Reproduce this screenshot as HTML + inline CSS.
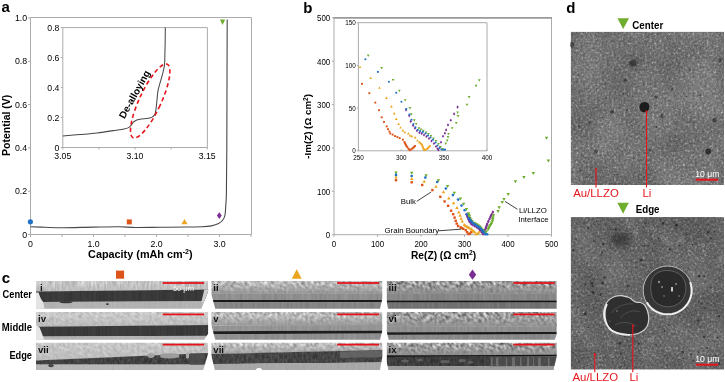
<!DOCTYPE html>
<html><head><meta charset="utf-8"><title>Figure</title>
<style>
html,body{margin:0;padding:0;background:#fff;width:725px;height:382px;overflow:hidden}
svg{display:block;filter:blur(0.4px)}
text{font-family:"Liberation Sans",sans-serif}
</style></head><body>
<svg width="725" height="382" viewBox="0 0 725 382">
<rect width="725" height="382" fill="#fff"/>
<defs><linearGradient id="vfade" x1="0" y1="0" x2="0" y2="1"><stop offset="0" stop-color="#000"/><stop offset="1" stop-color="#fff"/></linearGradient><filter id="f780_350_0p45_0p09_11_2" x="0" y="0" width="100%" height="100%" color-interpolation-filters="sRGB"><feTurbulence type="fractalNoise" baseFrequency="0.45 0.09" numOctaves="2" seed="11"/><feColorMatrix type="matrix" values="1 0 0 0 0 1 0 0 0 0 1 0 0 0 0 0 0 0 0 1"/><feComponentTransfer><feFuncR type="linear" slope="0.350" intercept="0.605"/><feFuncG type="linear" slope="0.350" intercept="0.605"/><feFuncB type="linear" slope="0.350" intercept="0.605"/></feComponentTransfer><feComposite in2="SourceAlpha" operator="in"/></filter><filter id="f700_100_0p55_0p025_14_1" x="0" y="0" width="100%" height="100%" color-interpolation-filters="sRGB"><feTurbulence type="fractalNoise" baseFrequency="0.55 0.025" numOctaves="1" seed="14"/><feColorMatrix type="matrix" values="1 0 0 0 0 1 0 0 0 0 1 0 0 0 0 0 0 0 0 1"/><feComponentTransfer><feFuncR type="linear" slope="0.100" intercept="0.650"/><feFuncG type="linear" slope="0.100" intercept="0.650"/><feFuncB type="linear" slope="0.100" intercept="0.650"/></feComponentTransfer><feComposite in2="SourceAlpha" operator="in"/></filter><filter id="f225_80_0p55_0p025_17_1" x="0" y="0" width="100%" height="100%" color-interpolation-filters="sRGB"><feTurbulence type="fractalNoise" baseFrequency="0.55 0.025" numOctaves="1" seed="17"/><feColorMatrix type="matrix" values="1 0 0 0 0 1 0 0 0 0 1 0 0 0 0 0 0 0 0 1"/><feComponentTransfer><feFuncR type="linear" slope="0.080" intercept="0.185"/><feFuncG type="linear" slope="0.080" intercept="0.185"/><feFuncB type="linear" slope="0.080" intercept="0.185"/></feComponentTransfer><feComposite in2="SourceAlpha" operator="in"/></filter><filter id="f700_60_0p55_0p025_20_1" x="0" y="0" width="100%" height="100%" color-interpolation-filters="sRGB"><feTurbulence type="fractalNoise" baseFrequency="0.55 0.025" numOctaves="1" seed="20"/><feColorMatrix type="matrix" values="1 0 0 0 0 1 0 0 0 0 1 0 0 0 0 0 0 0 0 1"/><feComponentTransfer><feFuncR type="linear" slope="0.060" intercept="0.670"/><feFuncG type="linear" slope="0.060" intercept="0.670"/><feFuncB type="linear" slope="0.060" intercept="0.670"/></feComponentTransfer><feComposite in2="SourceAlpha" operator="in"/></filter><filter id="f730_700_0p26_0p38_21_2" x="0" y="0" width="100%" height="100%" color-interpolation-filters="sRGB"><feTurbulence type="fractalNoise" baseFrequency="0.26 0.38" numOctaves="2" seed="21"/><feColorMatrix type="matrix" values="1 0 0 0 0 1 0 0 0 0 1 0 0 0 0 0 0 0 0 1"/><feComponentTransfer><feFuncR type="linear" slope="0.700" intercept="0.380"/><feFuncG type="linear" slope="0.700" intercept="0.380"/><feFuncB type="linear" slope="0.700" intercept="0.380"/></feComponentTransfer><feComposite in2="SourceAlpha" operator="in"/></filter><filter id="f580_140_0p55_0p025_24_1" x="0" y="0" width="100%" height="100%" color-interpolation-filters="sRGB"><feTurbulence type="fractalNoise" baseFrequency="0.55 0.025" numOctaves="1" seed="24"/><feColorMatrix type="matrix" values="1 0 0 0 0 1 0 0 0 0 1 0 0 0 0 0 0 0 0 1"/><feComponentTransfer><feFuncR type="linear" slope="0.140" intercept="0.510"/><feFuncG type="linear" slope="0.140" intercept="0.510"/><feFuncB type="linear" slope="0.140" intercept="0.510"/></feComponentTransfer><feComposite in2="SourceAlpha" operator="in"/></filter><filter id="f560_120_0p55_0p025_27_1" x="0" y="0" width="100%" height="100%" color-interpolation-filters="sRGB"><feTurbulence type="fractalNoise" baseFrequency="0.55 0.025" numOctaves="1" seed="27"/><feColorMatrix type="matrix" values="1 0 0 0 0 1 0 0 0 0 1 0 0 0 0 0 0 0 0 1"/><feComponentTransfer><feFuncR type="linear" slope="0.120" intercept="0.500"/><feFuncG type="linear" slope="0.120" intercept="0.500"/><feFuncB type="linear" slope="0.120" intercept="0.500"/></feComponentTransfer><feComposite in2="SourceAlpha" operator="in"/></filter><filter id="f100_40_0p55_0p025_30_1" x="0" y="0" width="100%" height="100%" color-interpolation-filters="sRGB"><feTurbulence type="fractalNoise" baseFrequency="0.55 0.025" numOctaves="1" seed="30"/><feColorMatrix type="matrix" values="1 0 0 0 0 1 0 0 0 0 1 0 0 0 0 0 0 0 0 1"/><feComponentTransfer><feFuncR type="linear" slope="0.040" intercept="0.080"/><feFuncG type="linear" slope="0.040" intercept="0.080"/><feFuncB type="linear" slope="0.040" intercept="0.080"/></feComponentTransfer><feComposite in2="SourceAlpha" operator="in"/></filter><filter id="f520_120_0p55_0p025_33_1" x="0" y="0" width="100%" height="100%" color-interpolation-filters="sRGB"><feTurbulence type="fractalNoise" baseFrequency="0.55 0.025" numOctaves="1" seed="33"/><feColorMatrix type="matrix" values="1 0 0 0 0 1 0 0 0 0 1 0 0 0 0 0 0 0 0 1"/><feComponentTransfer><feFuncR type="linear" slope="0.120" intercept="0.460"/><feFuncG type="linear" slope="0.120" intercept="0.460"/><feFuncB type="linear" slope="0.120" intercept="0.460"/></feComponentTransfer><feComposite in2="SourceAlpha" operator="in"/></filter><filter id="f620_1050_0p26_0p38_31_2" x="0" y="0" width="100%" height="100%" color-interpolation-filters="sRGB"><feTurbulence type="fractalNoise" baseFrequency="0.26 0.38" numOctaves="2" seed="31"/><feColorMatrix type="matrix" values="1 0 0 0 0 1 0 0 0 0 1 0 0 0 0 0 0 0 0 1"/><feComponentTransfer><feFuncR type="linear" slope="1.050" intercept="0.095"/><feFuncG type="linear" slope="1.050" intercept="0.095"/><feFuncB type="linear" slope="1.050" intercept="0.095"/></feComponentTransfer><feComposite in2="SourceAlpha" operator="in"/></filter><filter id="f550_140_0p55_0p025_34_1" x="0" y="0" width="100%" height="100%" color-interpolation-filters="sRGB"><feTurbulence type="fractalNoise" baseFrequency="0.55 0.025" numOctaves="1" seed="34"/><feColorMatrix type="matrix" values="1 0 0 0 0 1 0 0 0 0 1 0 0 0 0 0 0 0 0 1"/><feComponentTransfer><feFuncR type="linear" slope="0.140" intercept="0.480"/><feFuncG type="linear" slope="0.140" intercept="0.480"/><feFuncB type="linear" slope="0.140" intercept="0.480"/></feComponentTransfer><feComposite in2="SourceAlpha" operator="in"/></filter><filter id="f530_120_0p55_0p025_37_1" x="0" y="0" width="100%" height="100%" color-interpolation-filters="sRGB"><feTurbulence type="fractalNoise" baseFrequency="0.55 0.025" numOctaves="1" seed="37"/><feColorMatrix type="matrix" values="1 0 0 0 0 1 0 0 0 0 1 0 0 0 0 0 0 0 0 1"/><feComponentTransfer><feFuncR type="linear" slope="0.120" intercept="0.470"/><feFuncG type="linear" slope="0.120" intercept="0.470"/><feFuncB type="linear" slope="0.120" intercept="0.470"/></feComponentTransfer><feComposite in2="SourceAlpha" operator="in"/></filter><filter id="f80_40_0p55_0p025_40_1" x="0" y="0" width="100%" height="100%" color-interpolation-filters="sRGB"><feTurbulence type="fractalNoise" baseFrequency="0.55 0.025" numOctaves="1" seed="40"/><feColorMatrix type="matrix" values="1 0 0 0 0 1 0 0 0 0 1 0 0 0 0 0 0 0 0 1"/><feComponentTransfer><feFuncR type="linear" slope="0.040" intercept="0.060"/><feFuncG type="linear" slope="0.040" intercept="0.060"/><feFuncB type="linear" slope="0.040" intercept="0.060"/></feComponentTransfer><feComposite in2="SourceAlpha" operator="in"/></filter><filter id="f450_120_0p55_0p025_43_1" x="0" y="0" width="100%" height="100%" color-interpolation-filters="sRGB"><feTurbulence type="fractalNoise" baseFrequency="0.55 0.025" numOctaves="1" seed="43"/><feColorMatrix type="matrix" values="1 0 0 0 0 1 0 0 0 0 1 0 0 0 0 0 0 0 0 1"/><feComponentTransfer><feFuncR type="linear" slope="0.120" intercept="0.390"/><feFuncG type="linear" slope="0.120" intercept="0.390"/><feFuncB type="linear" slope="0.120" intercept="0.390"/></feComponentTransfer><feComposite in2="SourceAlpha" operator="in"/></filter><filter id="f790_320_0p26_0p38_41_2" x="0" y="0" width="100%" height="100%" color-interpolation-filters="sRGB"><feTurbulence type="fractalNoise" baseFrequency="0.26 0.38" numOctaves="2" seed="41"/><feColorMatrix type="matrix" values="1 0 0 0 0 1 0 0 0 0 1 0 0 0 0 0 0 0 0 1"/><feComponentTransfer><feFuncR type="linear" slope="0.320" intercept="0.630"/><feFuncG type="linear" slope="0.320" intercept="0.630"/><feFuncB type="linear" slope="0.320" intercept="0.630"/></feComponentTransfer><feComposite in2="SourceAlpha" operator="in"/></filter><filter id="f700_100_0p55_0p025_44_1" x="0" y="0" width="100%" height="100%" color-interpolation-filters="sRGB"><feTurbulence type="fractalNoise" baseFrequency="0.55 0.025" numOctaves="1" seed="44"/><feColorMatrix type="matrix" values="1 0 0 0 0 1 0 0 0 0 1 0 0 0 0 0 0 0 0 1"/><feComponentTransfer><feFuncR type="linear" slope="0.100" intercept="0.650"/><feFuncG type="linear" slope="0.100" intercept="0.650"/><feFuncB type="linear" slope="0.100" intercept="0.650"/></feComponentTransfer><feComposite in2="SourceAlpha" operator="in"/></filter><filter id="f230_80_0p55_0p025_47_1" x="0" y="0" width="100%" height="100%" color-interpolation-filters="sRGB"><feTurbulence type="fractalNoise" baseFrequency="0.55 0.025" numOctaves="1" seed="47"/><feColorMatrix type="matrix" values="1 0 0 0 0 1 0 0 0 0 1 0 0 0 0 0 0 0 0 1"/><feComponentTransfer><feFuncR type="linear" slope="0.080" intercept="0.190"/><feFuncG type="linear" slope="0.080" intercept="0.190"/><feFuncB type="linear" slope="0.080" intercept="0.190"/></feComponentTransfer><feComposite in2="SourceAlpha" operator="in"/></filter><filter id="f700_60_0p55_0p025_50_1" x="0" y="0" width="100%" height="100%" color-interpolation-filters="sRGB"><feTurbulence type="fractalNoise" baseFrequency="0.55 0.025" numOctaves="1" seed="50"/><feColorMatrix type="matrix" values="1 0 0 0 0 1 0 0 0 0 1 0 0 0 0 0 0 0 0 1"/><feComponentTransfer><feFuncR type="linear" slope="0.060" intercept="0.670"/><feFuncG type="linear" slope="0.060" intercept="0.670"/><feFuncB type="linear" slope="0.060" intercept="0.670"/></feComponentTransfer><feComposite in2="SourceAlpha" operator="in"/></filter><filter id="f740_700_0p26_0p38_51_2" x="0" y="0" width="100%" height="100%" color-interpolation-filters="sRGB"><feTurbulence type="fractalNoise" baseFrequency="0.26 0.38" numOctaves="2" seed="51"/><feColorMatrix type="matrix" values="1 0 0 0 0 1 0 0 0 0 1 0 0 0 0 0 0 0 0 1"/><feComponentTransfer><feFuncR type="linear" slope="0.700" intercept="0.390"/><feFuncG type="linear" slope="0.700" intercept="0.390"/><feFuncB type="linear" slope="0.700" intercept="0.390"/></feComponentTransfer><feComposite in2="SourceAlpha" operator="in"/></filter><filter id="f600_140_0p55_0p025_54_1" x="0" y="0" width="100%" height="100%" color-interpolation-filters="sRGB"><feTurbulence type="fractalNoise" baseFrequency="0.55 0.025" numOctaves="1" seed="54"/><feColorMatrix type="matrix" values="1 0 0 0 0 1 0 0 0 0 1 0 0 0 0 0 0 0 0 1"/><feComponentTransfer><feFuncR type="linear" slope="0.140" intercept="0.530"/><feFuncG type="linear" slope="0.140" intercept="0.530"/><feFuncB type="linear" slope="0.140" intercept="0.530"/></feComponentTransfer><feComposite in2="SourceAlpha" operator="in"/></filter><filter id="f580_120_0p55_0p025_57_1" x="0" y="0" width="100%" height="100%" color-interpolation-filters="sRGB"><feTurbulence type="fractalNoise" baseFrequency="0.55 0.025" numOctaves="1" seed="57"/><feColorMatrix type="matrix" values="1 0 0 0 0 1 0 0 0 0 1 0 0 0 0 0 0 0 0 1"/><feComponentTransfer><feFuncR type="linear" slope="0.120" intercept="0.520"/><feFuncG type="linear" slope="0.120" intercept="0.520"/><feFuncB type="linear" slope="0.120" intercept="0.520"/></feComponentTransfer><feComposite in2="SourceAlpha" operator="in"/></filter><filter id="f120_40_0p55_0p025_60_1" x="0" y="0" width="100%" height="100%" color-interpolation-filters="sRGB"><feTurbulence type="fractalNoise" baseFrequency="0.55 0.025" numOctaves="1" seed="60"/><feColorMatrix type="matrix" values="1 0 0 0 0 1 0 0 0 0 1 0 0 0 0 0 0 0 0 1"/><feComponentTransfer><feFuncR type="linear" slope="0.040" intercept="0.100"/><feFuncG type="linear" slope="0.040" intercept="0.100"/><feFuncB type="linear" slope="0.040" intercept="0.100"/></feComponentTransfer><feComposite in2="SourceAlpha" operator="in"/></filter><filter id="f560_120_0p55_0p025_63_1" x="0" y="0" width="100%" height="100%" color-interpolation-filters="sRGB"><feTurbulence type="fractalNoise" baseFrequency="0.55 0.025" numOctaves="1" seed="63"/><feColorMatrix type="matrix" values="1 0 0 0 0 1 0 0 0 0 1 0 0 0 0 0 0 0 0 1"/><feComponentTransfer><feFuncR type="linear" slope="0.120" intercept="0.500"/><feFuncG type="linear" slope="0.120" intercept="0.500"/><feFuncB type="linear" slope="0.120" intercept="0.500"/></feComponentTransfer><feComposite in2="SourceAlpha" operator="in"/></filter><filter id="f630_1050_0p26_0p38_61_2" x="0" y="0" width="100%" height="100%" color-interpolation-filters="sRGB"><feTurbulence type="fractalNoise" baseFrequency="0.26 0.38" numOctaves="2" seed="61"/><feColorMatrix type="matrix" values="1 0 0 0 0 1 0 0 0 0 1 0 0 0 0 0 0 0 0 1"/><feComponentTransfer><feFuncR type="linear" slope="1.050" intercept="0.105"/><feFuncG type="linear" slope="1.050" intercept="0.105"/><feFuncB type="linear" slope="1.050" intercept="0.105"/></feComponentTransfer><feComposite in2="SourceAlpha" operator="in"/></filter><filter id="f570_140_0p55_0p025_64_1" x="0" y="0" width="100%" height="100%" color-interpolation-filters="sRGB"><feTurbulence type="fractalNoise" baseFrequency="0.55 0.025" numOctaves="1" seed="64"/><feColorMatrix type="matrix" values="1 0 0 0 0 1 0 0 0 0 1 0 0 0 0 0 0 0 0 1"/><feComponentTransfer><feFuncR type="linear" slope="0.140" intercept="0.500"/><feFuncG type="linear" slope="0.140" intercept="0.500"/><feFuncB type="linear" slope="0.140" intercept="0.500"/></feComponentTransfer><feComposite in2="SourceAlpha" operator="in"/></filter><filter id="f560_120_0p55_0p025_67_1" x="0" y="0" width="100%" height="100%" color-interpolation-filters="sRGB"><feTurbulence type="fractalNoise" baseFrequency="0.55 0.025" numOctaves="1" seed="67"/><feColorMatrix type="matrix" values="1 0 0 0 0 1 0 0 0 0 1 0 0 0 0 0 0 0 0 1"/><feComponentTransfer><feFuncR type="linear" slope="0.120" intercept="0.500"/><feFuncG type="linear" slope="0.120" intercept="0.500"/><feFuncB type="linear" slope="0.120" intercept="0.500"/></feComponentTransfer><feComposite in2="SourceAlpha" operator="in"/></filter><filter id="f110_40_0p55_0p025_70_1" x="0" y="0" width="100%" height="100%" color-interpolation-filters="sRGB"><feTurbulence type="fractalNoise" baseFrequency="0.55 0.025" numOctaves="1" seed="70"/><feColorMatrix type="matrix" values="1 0 0 0 0 1 0 0 0 0 1 0 0 0 0 0 0 0 0 1"/><feComponentTransfer><feFuncR type="linear" slope="0.040" intercept="0.090"/><feFuncG type="linear" slope="0.040" intercept="0.090"/><feFuncB type="linear" slope="0.040" intercept="0.090"/></feComponentTransfer><feComposite in2="SourceAlpha" operator="in"/></filter><filter id="f540_120_0p55_0p025_73_1" x="0" y="0" width="100%" height="100%" color-interpolation-filters="sRGB"><feTurbulence type="fractalNoise" baseFrequency="0.55 0.025" numOctaves="1" seed="73"/><feColorMatrix type="matrix" values="1 0 0 0 0 1 0 0 0 0 1 0 0 0 0 0 0 0 0 1"/><feComponentTransfer><feFuncR type="linear" slope="0.120" intercept="0.480"/><feFuncG type="linear" slope="0.120" intercept="0.480"/><feFuncB type="linear" slope="0.120" intercept="0.480"/></feComponentTransfer><feComposite in2="SourceAlpha" operator="in"/></filter><filter id="f780_320_0p26_0p38_71_2" x="0" y="0" width="100%" height="100%" color-interpolation-filters="sRGB"><feTurbulence type="fractalNoise" baseFrequency="0.26 0.38" numOctaves="2" seed="71"/><feColorMatrix type="matrix" values="1 0 0 0 0 1 0 0 0 0 1 0 0 0 0 0 0 0 0 1"/><feComponentTransfer><feFuncR type="linear" slope="0.320" intercept="0.620"/><feFuncG type="linear" slope="0.320" intercept="0.620"/><feFuncB type="linear" slope="0.320" intercept="0.620"/></feComponentTransfer><feComposite in2="SourceAlpha" operator="in"/></filter><filter id="f720_100_0p55_0p025_74_1" x="0" y="0" width="100%" height="100%" color-interpolation-filters="sRGB"><feTurbulence type="fractalNoise" baseFrequency="0.55 0.025" numOctaves="1" seed="74"/><feColorMatrix type="matrix" values="1 0 0 0 0 1 0 0 0 0 1 0 0 0 0 0 0 0 0 1"/><feComponentTransfer><feFuncR type="linear" slope="0.100" intercept="0.670"/><feFuncG type="linear" slope="0.100" intercept="0.670"/><feFuncB type="linear" slope="0.100" intercept="0.670"/></feComponentTransfer><feComposite in2="SourceAlpha" operator="in"/></filter><filter id="f260_250_0p45_0p22_77_2" x="0" y="0" width="100%" height="100%" color-interpolation-filters="sRGB"><feTurbulence type="fractalNoise" baseFrequency="0.45 0.22" numOctaves="2" seed="77"/><feColorMatrix type="matrix" values="1 0 0 0 0 1 0 0 0 0 1 0 0 0 0 0 0 0 0 1"/><feComponentTransfer><feFuncR type="linear" slope="0.250" intercept="0.135"/><feFuncG type="linear" slope="0.250" intercept="0.135"/><feFuncB type="linear" slope="0.250" intercept="0.135"/></feComponentTransfer><feComposite in2="SourceAlpha" operator="in"/></filter><filter id="f720_60_0p55_0p025_80_1" x="0" y="0" width="100%" height="100%" color-interpolation-filters="sRGB"><feTurbulence type="fractalNoise" baseFrequency="0.55 0.025" numOctaves="1" seed="80"/><feColorMatrix type="matrix" values="1 0 0 0 0 1 0 0 0 0 1 0 0 0 0 0 0 0 0 1"/><feComponentTransfer><feFuncR type="linear" slope="0.060" intercept="0.690"/><feFuncG type="linear" slope="0.060" intercept="0.690"/><feFuncB type="linear" slope="0.060" intercept="0.690"/></feComponentTransfer><feComposite in2="SourceAlpha" operator="in"/></filter><filter id="f750_650_0p26_0p38_81_2" x="0" y="0" width="100%" height="100%" color-interpolation-filters="sRGB"><feTurbulence type="fractalNoise" baseFrequency="0.26 0.38" numOctaves="2" seed="81"/><feColorMatrix type="matrix" values="1 0 0 0 0 1 0 0 0 0 1 0 0 0 0 0 0 0 0 1"/><feComponentTransfer><feFuncR type="linear" slope="0.650" intercept="0.425"/><feFuncG type="linear" slope="0.650" intercept="0.425"/><feFuncB type="linear" slope="0.650" intercept="0.425"/></feComponentTransfer><feComposite in2="SourceAlpha" operator="in"/></filter><filter id="f620_140_0p55_0p025_84_1" x="0" y="0" width="100%" height="100%" color-interpolation-filters="sRGB"><feTurbulence type="fractalNoise" baseFrequency="0.55 0.025" numOctaves="1" seed="84"/><feColorMatrix type="matrix" values="1 0 0 0 0 1 0 0 0 0 1 0 0 0 0 0 0 0 0 1"/><feComponentTransfer><feFuncR type="linear" slope="0.140" intercept="0.550"/><feFuncG type="linear" slope="0.140" intercept="0.550"/><feFuncB type="linear" slope="0.140" intercept="0.550"/></feComponentTransfer><feComposite in2="SourceAlpha" operator="in"/></filter><filter id="f270_220_0p45_0p22_87_2" x="0" y="0" width="100%" height="100%" color-interpolation-filters="sRGB"><feTurbulence type="fractalNoise" baseFrequency="0.45 0.22" numOctaves="2" seed="87"/><feColorMatrix type="matrix" values="1 0 0 0 0 1 0 0 0 0 1 0 0 0 0 0 0 0 0 1"/><feComponentTransfer><feFuncR type="linear" slope="0.220" intercept="0.160"/><feFuncG type="linear" slope="0.220" intercept="0.160"/><feFuncB type="linear" slope="0.220" intercept="0.160"/></feComponentTransfer><feComposite in2="SourceAlpha" operator="in"/></filter><filter id="f660_80_0p55_0p025_90_1" x="0" y="0" width="100%" height="100%" color-interpolation-filters="sRGB"><feTurbulence type="fractalNoise" baseFrequency="0.55 0.025" numOctaves="1" seed="90"/><feColorMatrix type="matrix" values="1 0 0 0 0 1 0 0 0 0 1 0 0 0 0 0 0 0 0 1"/><feComponentTransfer><feFuncR type="linear" slope="0.080" intercept="0.620"/><feFuncG type="linear" slope="0.080" intercept="0.620"/><feFuncB type="linear" slope="0.080" intercept="0.620"/></feComponentTransfer><feComposite in2="SourceAlpha" operator="in"/></filter><filter id="f630_1050_0p26_0p38_91_2" x="0" y="0" width="100%" height="100%" color-interpolation-filters="sRGB"><feTurbulence type="fractalNoise" baseFrequency="0.26 0.38" numOctaves="2" seed="91"/><feColorMatrix type="matrix" values="1 0 0 0 0 1 0 0 0 0 1 0 0 0 0 0 0 0 0 1"/><feComponentTransfer><feFuncR type="linear" slope="1.050" intercept="0.105"/><feFuncG type="linear" slope="1.050" intercept="0.105"/><feFuncB type="linear" slope="1.050" intercept="0.105"/></feComponentTransfer><feComposite in2="SourceAlpha" operator="in"/></filter><filter id="f550_140_0p55_0p025_94_1" x="0" y="0" width="100%" height="100%" color-interpolation-filters="sRGB"><feTurbulence type="fractalNoise" baseFrequency="0.55 0.025" numOctaves="1" seed="94"/><feColorMatrix type="matrix" values="1 0 0 0 0 1 0 0 0 0 1 0 0 0 0 0 0 0 0 1"/><feComponentTransfer><feFuncR type="linear" slope="0.140" intercept="0.480"/><feFuncG type="linear" slope="0.140" intercept="0.480"/><feFuncB type="linear" slope="0.140" intercept="0.480"/></feComponentTransfer><feComposite in2="SourceAlpha" operator="in"/></filter><filter id="f70_40_0p55_0p025_97_1" x="0" y="0" width="100%" height="100%" color-interpolation-filters="sRGB"><feTurbulence type="fractalNoise" baseFrequency="0.55 0.025" numOctaves="1" seed="97"/><feColorMatrix type="matrix" values="1 0 0 0 0 1 0 0 0 0 1 0 0 0 0 0 0 0 0 1"/><feComponentTransfer><feFuncR type="linear" slope="0.040" intercept="0.050"/><feFuncG type="linear" slope="0.040" intercept="0.050"/><feFuncB type="linear" slope="0.040" intercept="0.050"/></feComponentTransfer><feComposite in2="SourceAlpha" operator="in"/></filter><filter id="f240_200_0p45_0p22_100_2" x="0" y="0" width="100%" height="100%" color-interpolation-filters="sRGB"><feTurbulence type="fractalNoise" baseFrequency="0.45 0.22" numOctaves="2" seed="100"/><feColorMatrix type="matrix" values="1 0 0 0 0 1 0 0 0 0 1 0 0 0 0 0 0 0 0 1"/><feComponentTransfer><feFuncR type="linear" slope="0.200" intercept="0.140"/><feFuncG type="linear" slope="0.200" intercept="0.140"/><feFuncB type="linear" slope="0.200" intercept="0.140"/></feComponentTransfer><feComposite in2="SourceAlpha" operator="in"/></filter><filter id="f600_100_0p55_0p025_103_1" x="0" y="0" width="100%" height="100%" color-interpolation-filters="sRGB"><feTurbulence type="fractalNoise" baseFrequency="0.55 0.025" numOctaves="1" seed="103"/><feColorMatrix type="matrix" values="1 0 0 0 0 1 0 0 0 0 1 0 0 0 0 0 0 0 0 1"/><feComponentTransfer><feFuncR type="linear" slope="0.100" intercept="0.550"/><feFuncG type="linear" slope="0.100" intercept="0.550"/><feFuncB type="linear" slope="0.100" intercept="0.550"/></feComponentTransfer><feComposite in2="SourceAlpha" operator="in"/></filter><filter id="t37691_0p42_0p42_4_2" x="0" y="0" width="100%" height="100%" color-interpolation-filters="sRGB"><feTurbulence type="fractalNoise" baseFrequency="0.42 0.42" numOctaves="2" seed="4"/><feColorMatrix type="matrix" values="1 0 0 0 0 1 0 0 0 0 1 0 0 0 0 0 0 0 0 1"/><feComponentTransfer><feFuncR type="table" tableValues="0.260 0.300 0.350 0.400 0.440 0.500 0.610 0.760 0.900"/><feFuncG type="table" tableValues="0.260 0.300 0.350 0.400 0.440 0.500 0.610 0.760 0.900"/><feFuncB type="table" tableValues="0.260 0.300 0.350 0.400 0.440 0.500 0.610 0.760 0.900"/></feComponentTransfer><feComposite in2="SourceAlpha" operator="in"/></filter><filter id="f500_1000_0p9_0p9_14_1" x="0" y="0" width="100%" height="100%" color-interpolation-filters="sRGB"><feTurbulence type="fractalNoise" baseFrequency="0.9 0.9" numOctaves="1" seed="14"/><feColorMatrix type="matrix" values="1 0 0 0 0 1 0 0 0 0 1 0 0 0 0 0 0 0 0 1"/><feComponentTransfer><feFuncR type="linear" slope="1.000" intercept="0.000"/><feFuncG type="linear" slope="1.000" intercept="0.000"/><feFuncB type="linear" slope="1.000" intercept="0.000"/></feComponentTransfer><feComposite in2="SourceAlpha" operator="in"/></filter><filter id="f500_2200_0p025_0p025_23_2" x="0" y="0" width="100%" height="100%" color-interpolation-filters="sRGB"><feTurbulence type="fractalNoise" baseFrequency="0.025 0.025" numOctaves="2" seed="23"/><feColorMatrix type="matrix" values="1 0 0 0 0 1 0 0 0 0 1 0 0 0 0 0 0 0 0 1"/><feComponentTransfer><feFuncR type="linear" slope="2.200" intercept="-0.600"/><feFuncG type="linear" slope="2.200" intercept="-0.600"/><feFuncB type="linear" slope="2.200" intercept="-0.600"/></feComponentTransfer><feComposite in2="SourceAlpha" operator="in"/></filter><filter id="t18910_0p42_0p42_7_2" x="0" y="0" width="100%" height="100%" color-interpolation-filters="sRGB"><feTurbulence type="fractalNoise" baseFrequency="0.42 0.42" numOctaves="2" seed="7"/><feColorMatrix type="matrix" values="1 0 0 0 0 1 0 0 0 0 1 0 0 0 0 0 0 0 0 1"/><feComponentTransfer><feFuncR type="table" tableValues="0.220 0.260 0.300 0.340 0.380 0.430 0.540 0.690 0.860"/><feFuncG type="table" tableValues="0.220 0.260 0.300 0.340 0.380 0.430 0.540 0.690 0.860"/><feFuncB type="table" tableValues="0.220 0.260 0.300 0.340 0.380 0.430 0.540 0.690 0.860"/></feComponentTransfer><feComposite in2="SourceAlpha" operator="in"/></filter><filter id="f500_1000_0p9_0p9_17_1" x="0" y="0" width="100%" height="100%" color-interpolation-filters="sRGB"><feTurbulence type="fractalNoise" baseFrequency="0.9 0.9" numOctaves="1" seed="17"/><feColorMatrix type="matrix" values="1 0 0 0 0 1 0 0 0 0 1 0 0 0 0 0 0 0 0 1"/><feComponentTransfer><feFuncR type="linear" slope="1.000" intercept="0.000"/><feFuncG type="linear" slope="1.000" intercept="0.000"/><feFuncB type="linear" slope="1.000" intercept="0.000"/></feComponentTransfer><feComposite in2="SourceAlpha" operator="in"/></filter><filter id="f400_2200_0p025_0p025_29_2" x="0" y="0" width="100%" height="100%" color-interpolation-filters="sRGB"><feTurbulence type="fractalNoise" baseFrequency="0.025 0.025" numOctaves="2" seed="29"/><feColorMatrix type="matrix" values="1 0 0 0 0 1 0 0 0 0 1 0 0 0 0 0 0 0 0 1"/><feComponentTransfer><feFuncR type="linear" slope="2.200" intercept="-0.700"/><feFuncG type="linear" slope="2.200" intercept="-0.700"/><feFuncB type="linear" slope="2.200" intercept="-0.700"/></feComponentTransfer><feComposite in2="SourceAlpha" operator="in"/></filter></defs>
<defs>
<filter id="semA" x="0" y="0" width="100%" height="100%" color-interpolation-filters="sRGB">
 <feTurbulence type="fractalNoise" baseFrequency="0.85" numOctaves="2" seed="4"/>
 <feColorMatrix type="matrix" values="0.33 0.33 0.33 0 0 0.33 0.33 0.33 0 0 0.33 0.33 0.33 0 0 0 0 0 0 1"/>
 <feComponentTransfer><feFuncR type="linear" slope="1.6" intercept="-0.34"/><feFuncG type="linear" slope="1.6" intercept="-0.34"/><feFuncB type="linear" slope="1.6" intercept="-0.34"/></feComponentTransfer>
</filter>
<filter id="semB" x="0" y="0" width="100%" height="100%" color-interpolation-filters="sRGB">
 <feTurbulence type="fractalNoise" baseFrequency="0.85" numOctaves="2" seed="9"/>
 <feColorMatrix type="matrix" values="0.33 0.33 0.33 0 0 0.33 0.33 0.33 0 0 0.33 0.33 0.33 0 0 0 0 0 0 1"/>
 <feComponentTransfer><feFuncR type="linear" slope="1.5" intercept="-0.32"/><feFuncG type="linear" slope="1.5" intercept="-0.32"/><feFuncB type="linear" slope="1.5" intercept="-0.32"/></feComponentTransfer>
</filter>
<filter id="streakTop" x="0" y="0" width="100%" height="100%" color-interpolation-filters="sRGB">
 <feTurbulence type="fractalNoise" baseFrequency="0.5 0.12" numOctaves="2" seed="2"/>
 <feColorMatrix type="matrix" values="0.33 0.33 0.33 0 0 0.33 0.33 0.33 0 0 0.33 0.33 0.33 0 0 0 0 0 0 1"/>
 <feComponentTransfer><feFuncR type="linear" slope="1.4" intercept="0.08"/><feFuncG type="linear" slope="1.4" intercept="0.08"/><feFuncB type="linear" slope="1.4" intercept="0.08"/></feComponentTransfer>
</filter>
<filter id="vstreak" x="0" y="0" width="100%" height="100%" color-interpolation-filters="sRGB">
 <feTurbulence type="fractalNoise" baseFrequency="0.6 0.02" numOctaves="1" seed="5"/>
 <feColorMatrix type="matrix" values="0 0 0 0 0 0 0 0 0 0 0 0 0 0 0 0 0 0 0.6 -0.2"/>
</filter>
</defs>
<text x="1.50" y="12.40" font-size="15.00" font-weight="bold" fill="#000" >a</text>
<text x="303.20" y="12.60" font-size="15.00" font-weight="bold" fill="#000" >b</text>
<text x="1.70" y="283.20" font-size="15.00" font-weight="bold" fill="#000" >c</text>
<text x="566.20" y="12.60" font-size="15.00" font-weight="bold" fill="#000" >d</text>
<g fill="none" stroke="#ababab" stroke-width="1">
<path d="M30.5,17.5 H251.5 V234.5"/>
<path d="M30.5,17.5 V234.5 H251.5"/>
<path d="M28,234.5 H30.5"/>
<path d="M28,191.2 H30.5"/>
<path d="M28,147.9 H30.5"/>
<path d="M28,104.6 H30.5"/>
<path d="M28,61.3 H30.5"/>
<path d="M28,18.0 H30.5"/>
<path d="M30.5,234.5 V237"/>
<path d="M62.0,234.5 V237"/>
<path d="M93.5,234.5 V237"/>
<path d="M125.0,234.5 V237"/>
<path d="M156.5,234.5 V237"/>
<path d="M188.0,234.5 V237"/>
<path d="M219.5,234.5 V237"/>
<path d="M251.0,234.5 V237"/>
</g>
<text x="27.20" y="237.60" font-size="8.80" text-anchor="end" fill="#000" >0</text>
<text x="27.20" y="194.30" font-size="8.80" text-anchor="end" fill="#000" >0.2</text>
<text x="27.20" y="151.00" font-size="8.80" text-anchor="end" fill="#000" >0.4</text>
<text x="27.20" y="107.70" font-size="8.80" text-anchor="end" fill="#000" >0.6</text>
<text x="27.20" y="64.40" font-size="8.80" text-anchor="end" fill="#000" >0.8</text>
<text x="27.20" y="21.10" font-size="8.80" text-anchor="end" fill="#000" >1.0</text>
<text x="30.50" y="246.50" font-size="8.80" text-anchor="middle" fill="#000" >0</text>
<text x="93.50" y="246.50" font-size="8.80" text-anchor="middle" fill="#000" >1.0</text>
<text x="156.50" y="246.50" font-size="8.80" text-anchor="middle" fill="#000" >2.0</text>
<text x="219.50" y="246.50" font-size="8.80" text-anchor="middle" fill="#000" >3.0</text>
<text transform="translate(10.3,125.3) rotate(-90)" font-size="10.5" font-weight="bold" text-anchor="middle" font-family="Liberation Sans, sans-serif">Potential (V)</text>
<text x="140.3" y="257.9" font-size="10.85" font-weight="bold" text-anchor="middle" font-family="Liberation Sans, sans-serif">Capacity (mAh cm<tspan dy="-3.5" font-size="7">-2</tspan><tspan dy="3.5">)</tspan></text>
<path d="M30.50,226.70 C32.92,226.80 39.58,227.12 45.00,227.30 C50.42,227.48 55.00,227.83 63.00,227.80 C71.00,227.77 83.67,227.28 93.00,227.10 C102.33,226.92 112.00,226.63 119.00,226.70 C126.00,226.77 128.17,227.40 135.00,227.50 C141.83,227.60 151.67,227.38 160.00,227.30 C168.33,227.22 178.00,227.08 185.00,227.00 C192.00,226.92 197.58,226.98 202.00,226.80 C206.42,226.62 208.73,226.43 211.50,225.90 C214.27,225.37 216.72,224.58 218.60,223.60 C220.48,222.62 221.73,221.43 222.80,220.00 C223.87,218.57 224.50,217.50 225.00,215.00 C225.50,212.50 225.57,208.67 225.80,205.00 C226.03,201.33 226.23,202.17 226.40,193.00 C226.57,183.83 226.70,168.83 226.80,150.00 C226.90,131.17 226.93,101.73 227.00,80.00 C227.07,58.27 227.17,29.67 227.20,19.60" fill="none" stroke="#484848" stroke-width="1.1"/>
<circle cx="30.4" cy="221.8" r="2.6" fill="#1f71c6"/>
<rect x="126.8" y="219.4" width="5" height="5" fill="#dc5419"/>
<path d="M184.5,218.9 L187.6,224.3 L181.4,224.3 Z" fill="#eda51f"/>
<path d="M219.3,212.2 L221.7,215.6 L219.3,219 L216.9,215.6 Z" fill="#7b2e91"/>
<path d="M219.9,19.6 L225.2,19.6 L222.55,25.0 Z" fill="#6fad2f"/>
<g fill="none" stroke="#ababab" stroke-width="1">
<path d="M62.8,27.6 H207.4 V147.5"/>
<path d="M62.8,27.6 V147.5 H207.4"/>
<path d="M60.8,147.5 H62.8"/>
<path d="M60.8,117.5 H62.8"/>
<path d="M60.8,87.5 H62.8"/>
<path d="M60.8,57.5 H62.8"/>
<path d="M60.8,27.5 H62.8"/>
<path d="M62.8,147.5 V149.5"/>
<path d="M98.9,147.5 V149.5"/>
<path d="M135.0,147.5 V149.5"/>
<path d="M171.1,147.5 V149.5"/>
<path d="M207.2,147.5 V149.5"/>
</g>
<text x="59.40" y="150.60" font-size="8.70" text-anchor="end" fill="#000" >0</text>
<text x="59.40" y="120.60" font-size="8.70" text-anchor="end" fill="#000" >0.2</text>
<text x="59.40" y="90.60" font-size="8.70" text-anchor="end" fill="#000" >0.4</text>
<text x="59.40" y="60.60" font-size="8.70" text-anchor="end" fill="#000" >0.6</text>
<text x="59.40" y="30.60" font-size="8.70" text-anchor="end" fill="#000" >0.8</text>
<text x="62.80" y="158.50" font-size="8.70" text-anchor="middle" fill="#000" >3.05</text>
<text x="135.00" y="158.50" font-size="8.70" text-anchor="middle" fill="#000" >3.10</text>
<text x="207.20" y="158.50" font-size="8.70" text-anchor="middle" fill="#000" >3.15</text>
<path d="M62.80,135.90 C65.67,135.67 74.30,135.00 80.00,134.50 C85.70,134.00 91.02,133.62 97.00,132.90 C102.98,132.18 111.40,130.87 115.90,130.20 C120.40,129.53 121.90,129.33 124.00,128.90 C126.10,128.47 127.33,128.17 128.50,127.60 C129.67,127.03 130.22,126.37 131.00,125.50 C131.78,124.63 132.23,123.32 133.20,122.40 C134.17,121.48 135.42,120.58 136.80,120.00 C138.18,119.42 139.92,119.13 141.50,118.90 C143.08,118.67 144.80,118.78 146.30,118.60 C147.80,118.42 149.33,118.17 150.50,117.80 C151.67,117.43 152.50,117.17 153.30,116.40 C154.10,115.63 154.80,114.85 155.30,113.20 C155.80,111.55 156.02,108.75 156.30,106.50 C156.58,104.25 156.70,102.42 157.00,99.70 C157.30,96.98 157.48,93.37 158.10,90.20 C158.72,87.03 159.85,83.82 160.70,80.70 C161.55,77.58 162.57,74.15 163.20,71.50 C163.83,68.85 164.22,67.68 164.50,64.80 C164.78,61.92 164.78,58.33 164.90,54.20 C165.02,50.07 165.13,44.43 165.20,40.00 C165.27,35.57 165.28,29.67 165.30,27.60" fill="none" stroke="#484848" stroke-width="1.05"/>
<ellipse cx="150.2" cy="101" rx="10.8" ry="40.5" transform="rotate(25 150.2 101)" fill="none" stroke="#e8161c" stroke-width="1.6" stroke-dasharray="4.2 3"/>
<text transform="translate(124.6,119.2) rotate(-61)" font-size="9.9" font-weight="bold" font-family="Liberation Sans, sans-serif">De-alloying</text>
<g fill="none" stroke="#ababab" stroke-width="1">
<path d="M334.0,17.8 V234.7 H551.5 V17.8"/>
<path d="M331.8,234.7 H334.0"/>
<path d="M331.8,191.3 H334.0"/>
<path d="M331.8,148.0 H334.0"/>
<path d="M331.8,104.6 H334.0"/>
<path d="M331.8,61.2 H334.0"/>
<path d="M331.8,17.8 H334.0"/>
<path d="M334.0,234.7 V236.8"/>
<path d="M377.5,234.7 V236.8"/>
<path d="M421.0,234.7 V236.8"/>
<path d="M464.5,234.7 V236.8"/>
<path d="M508.0,234.7 V236.8"/>
<path d="M551.5,234.7 V236.8"/>
</g>
<path d="M333.5,17.9 H552" stroke="#9a9a9a" stroke-width="1.7"/>
<text x="330.20" y="238.00" font-size="8.80" text-anchor="end" fill="#000"  textLength="4.40" lengthAdjust="spacingAndGlyphs">0</text>
<text x="330.20" y="194.63" font-size="8.80" text-anchor="end" fill="#000"  textLength="13.20" lengthAdjust="spacingAndGlyphs">100</text>
<text x="330.20" y="151.26" font-size="8.80" text-anchor="end" fill="#000"  textLength="13.20" lengthAdjust="spacingAndGlyphs">200</text>
<text x="330.20" y="107.89" font-size="8.80" text-anchor="end" fill="#000"  textLength="13.20" lengthAdjust="spacingAndGlyphs">300</text>
<text x="330.20" y="64.52" font-size="8.80" text-anchor="end" fill="#000"  textLength="13.20" lengthAdjust="spacingAndGlyphs">400</text>
<text x="330.20" y="21.15" font-size="8.80" text-anchor="end" fill="#000"  textLength="13.20" lengthAdjust="spacingAndGlyphs">500</text>
<text x="334.00" y="246.80" font-size="8.80" text-anchor="middle" fill="#000"  textLength="4.40" lengthAdjust="spacingAndGlyphs">0</text>
<text x="377.50" y="246.80" font-size="8.80" text-anchor="middle" fill="#000"  textLength="13.20" lengthAdjust="spacingAndGlyphs">100</text>
<text x="421.00" y="246.80" font-size="8.80" text-anchor="middle" fill="#000"  textLength="13.20" lengthAdjust="spacingAndGlyphs">200</text>
<text x="464.50" y="246.80" font-size="8.80" text-anchor="middle" fill="#000"  textLength="13.20" lengthAdjust="spacingAndGlyphs">300</text>
<text x="508.00" y="246.80" font-size="8.80" text-anchor="middle" fill="#000"  textLength="13.20" lengthAdjust="spacingAndGlyphs">400</text>
<text x="551.50" y="246.80" font-size="8.80" text-anchor="middle" fill="#000"  textLength="13.20" lengthAdjust="spacingAndGlyphs">500</text>
<text transform="translate(310.8,126.4) rotate(-90)" font-size="9.8" font-weight="bold" text-anchor="middle" font-family="Liberation Sans, sans-serif">-Im(Z) (&#937; cm<tspan dy="-3.3" font-size="6.5">2</tspan><tspan dy="3.3">)</tspan></text>
<text x="411" y="258.9" font-size="10.2" font-weight="bold" font-family="Liberation Sans, sans-serif">Re(Z) (&#937; cm<tspan dy="-3.5" font-size="6.8">2</tspan><tspan dy="3.5">)</tspan></text>
<g fill="none" stroke="#ababab" stroke-width="1">
<path d="M358.4,22.7 H487 V150.8"/>
<path d="M358.4,22.7 V150.8 H487"/>
<path d="M356.8,150.8 H358.4"/>
<path d="M356.8,108.1 H358.4"/>
<path d="M356.8,65.5 H358.4"/>
<path d="M356.8,22.8 H358.4"/>
<path d="M358.4,150.8 V149.2"/>
<path d="M401.2,150.8 V149.2"/>
<path d="M444.1,150.8 V149.2"/>
<path d="M486.9,150.8 V149.2"/>
</g>
<text x="355.80" y="153.40" font-size="6.30" text-anchor="end" fill="#000" >0</text>
<text x="355.80" y="110.73" font-size="6.30" text-anchor="end" fill="#000" >50</text>
<text x="355.80" y="68.07" font-size="6.30" text-anchor="end" fill="#000" >100</text>
<text x="355.80" y="25.40" font-size="6.30" text-anchor="end" fill="#000" >150</text>
<text x="358.40" y="160.40" font-size="6.30" text-anchor="middle" fill="#000" >250</text>
<text x="401.23" y="160.40" font-size="6.30" text-anchor="middle" fill="#000" >300</text>
<text x="444.07" y="160.40" font-size="6.30" text-anchor="middle" fill="#000" >350</text>
<text x="486.90" y="160.40" font-size="6.30" text-anchor="middle" fill="#000" >400</text>
<rect x="361.05" y="82.85" width="1.90" height="1.90" fill="#dc5419"/>
<rect x="368.35" y="92.25" width="1.90" height="1.90" fill="#dc5419"/>
<rect x="374.35" y="101.65" width="1.90" height="1.90" fill="#dc5419"/>
<rect x="378.05" y="109.25" width="1.90" height="1.90" fill="#dc5419"/>
<rect x="380.75" y="116.35" width="1.90" height="1.90" fill="#dc5419"/>
<rect x="383.05" y="121.05" width="1.90" height="1.90" fill="#dc5419"/>
<rect x="385.75" y="125.45" width="1.90" height="1.90" fill="#dc5419"/>
<rect x="387.05" y="128.25" width="1.90" height="1.90" fill="#dc5419"/>
<rect x="388.55" y="130.65" width="1.90" height="1.90" fill="#dc5419"/>
<rect x="389.35" y="132.55" width="1.90" height="1.90" fill="#dc5419"/>
<rect x="391.75" y="133.65" width="1.90" height="1.90" fill="#dc5419"/>
<rect x="394.05" y="135.15" width="1.90" height="1.90" fill="#dc5419"/>
<rect x="396.45" y="136.15" width="1.90" height="1.90" fill="#dc5419"/>
<rect x="398.75" y="137.25" width="1.90" height="1.90" fill="#dc5419"/>
<rect x="401.95" y="138.75" width="1.90" height="1.90" fill="#dc5419"/>
<rect x="403.45" y="141.15" width="1.90" height="1.90" fill="#dc5419"/>
<rect x="403.98" y="142.18" width="1.90" height="1.90" fill="#dc5419"/>
<rect x="404.52" y="143.22" width="1.90" height="1.90" fill="#dc5419"/>
<rect x="405.05" y="144.25" width="1.90" height="1.90" fill="#dc5419"/>
<rect x="405.70" y="145.25" width="1.90" height="1.90" fill="#dc5419"/>
<rect x="406.35" y="146.25" width="1.90" height="1.90" fill="#dc5419"/>
<rect x="407.45" y="147.75" width="1.90" height="1.90" fill="#dc5419"/>
<rect x="408.25" y="148.50" width="1.90" height="1.90" fill="#dc5419"/>
<rect x="409.05" y="149.25" width="1.90" height="1.90" fill="#dc5419"/>
<rect x="410.55" y="148.25" width="1.90" height="1.90" fill="#dc5419"/>
<rect x="411.50" y="147.45" width="1.90" height="1.90" fill="#dc5419"/>
<rect x="412.45" y="146.65" width="1.90" height="1.90" fill="#dc5419"/>
<rect x="413.25" y="145.85" width="1.90" height="1.90" fill="#dc5419"/>
<rect x="414.05" y="145.05" width="1.90" height="1.90" fill="#dc5419"/>
<path d="M360.00,65.68 L361.39,68.08 L358.61,68.08 Z" fill="#eda51f"/>
<path d="M370.60,76.68 L371.99,79.08 L369.21,79.08 Z" fill="#eda51f"/>
<path d="M379.40,86.38 L380.79,88.78 L378.01,88.78 Z" fill="#eda51f"/>
<path d="M386.40,96.48 L387.79,98.88 L385.01,98.88 Z" fill="#eda51f"/>
<path d="M391.40,104.98 L392.79,107.38 L390.01,107.38 Z" fill="#eda51f"/>
<path d="M394.20,112.08 L395.59,114.48 L392.81,114.48 Z" fill="#eda51f"/>
<path d="M396.30,117.58 L397.69,119.98 L394.91,119.98 Z" fill="#eda51f"/>
<path d="M398.60,122.68 L399.99,125.08 L397.21,125.08 Z" fill="#eda51f"/>
<path d="M400.50,126.18 L401.89,128.58 L399.11,128.58 Z" fill="#eda51f"/>
<path d="M402.90,128.98 L404.29,131.38 L401.51,131.38 Z" fill="#eda51f"/>
<path d="M404.90,130.88 L406.29,133.28 L403.51,133.28 Z" fill="#eda51f"/>
<path d="M408.40,132.18 L409.79,134.58 L407.01,134.58 Z" fill="#eda51f"/>
<path d="M410.00,134.18 L411.39,136.58 L408.61,136.58 Z" fill="#eda51f"/>
<path d="M411.80,134.78 L413.19,137.18 L410.41,137.18 Z" fill="#eda51f"/>
<path d="M415.10,136.08 L416.49,138.48 L413.71,138.48 Z" fill="#eda51f"/>
<path d="M417.50,139.18 L418.89,141.58 L416.11,141.58 Z" fill="#eda51f"/>
<path d="M419.40,140.78 L420.79,143.18 L418.01,143.18 Z" fill="#eda51f"/>
<path d="M420.55,141.73 L421.94,144.13 L419.16,144.13 Z" fill="#eda51f"/>
<path d="M421.70,142.68 L423.09,145.08 L420.31,145.08 Z" fill="#eda51f"/>
<path d="M422.23,143.88 L423.63,146.28 L420.84,146.28 Z" fill="#eda51f"/>
<path d="M422.77,145.08 L424.16,147.48 L421.37,147.48 Z" fill="#eda51f"/>
<path d="M423.30,146.28 L424.69,148.68 L421.91,148.68 Z" fill="#eda51f"/>
<path d="M423.75,147.28 L425.14,149.68 L422.36,149.68 Z" fill="#eda51f"/>
<path d="M424.20,148.28 L425.59,150.68 L422.81,150.68 Z" fill="#eda51f"/>
<path d="M425.20,148.68 L426.59,151.08 L423.81,151.08 Z" fill="#eda51f"/>
<path d="M426.60,147.68 L427.99,150.08 L425.21,150.08 Z" fill="#eda51f"/>
<path d="M427.40,146.93 L428.79,149.33 L426.01,149.33 Z" fill="#eda51f"/>
<path d="M428.20,146.18 L429.59,148.58 L426.81,148.58 Z" fill="#eda51f"/>
<path d="M429.10,145.23 L430.49,147.63 L427.71,147.63 Z" fill="#eda51f"/>
<path d="M430.00,144.28 L431.39,146.68 L428.61,146.68 Z" fill="#eda51f"/>
<path d="M406.00,108.34 L407.17,109.90 L406.00,111.46 L404.83,109.90 Z" fill="#7b2e91"/>
<path d="M409.20,114.14 L410.37,115.70 L409.20,117.26 L408.03,115.70 Z" fill="#7b2e91"/>
<path d="M410.70,119.84 L411.87,121.40 L410.70,122.96 L409.53,121.40 Z" fill="#7b2e91"/>
<path d="M413.10,124.04 L414.27,125.60 L413.10,127.16 L411.93,125.60 Z" fill="#7b2e91"/>
<path d="M415.00,126.74 L416.17,128.30 L415.00,129.86 L413.83,128.30 Z" fill="#7b2e91"/>
<path d="M417.00,129.24 L418.17,130.80 L417.00,132.36 L415.83,130.80 Z" fill="#7b2e91"/>
<path d="M419.40,131.14 L420.57,132.70 L419.40,134.26 L418.23,132.70 Z" fill="#7b2e91"/>
<path d="M421.70,131.94 L422.87,133.50 L421.70,135.06 L420.53,133.50 Z" fill="#7b2e91"/>
<path d="M424.00,133.44 L425.17,135.00 L424.00,136.56 L422.83,135.00 Z" fill="#7b2e91"/>
<path d="M426.50,134.94 L427.67,136.50 L426.50,138.06 L425.33,136.50 Z" fill="#7b2e91"/>
<path d="M429.00,136.94 L430.17,138.50 L429.00,140.06 L427.83,138.50 Z" fill="#7b2e91"/>
<path d="M431.50,139.44 L432.67,141.00 L431.50,142.56 L430.33,141.00 Z" fill="#7b2e91"/>
<path d="M434.00,141.94 L435.17,143.50 L434.00,145.06 L432.83,143.50 Z" fill="#7b2e91"/>
<path d="M436.00,144.94 L437.17,146.50 L436.00,148.06 L434.83,146.50 Z" fill="#7b2e91"/>
<path d="M437.50,147.24 L438.67,148.80 L437.50,150.36 L436.33,148.80 Z" fill="#7b2e91"/>
<path d="M438.50,148.34 L439.67,149.90 L438.50,151.46 L437.33,149.90 Z" fill="#7b2e91"/>
<path d="M440.00,145.44 L441.17,147.00 L440.00,148.56 L438.83,147.00 Z" fill="#7b2e91"/>
<path d="M441.00,140.64 L442.17,142.20 L441.00,143.76 L439.83,142.20 Z" fill="#7b2e91"/>
<path d="M443.00,134.64 L444.17,136.20 L443.00,137.76 L441.83,136.20 Z" fill="#7b2e91"/>
<path d="M444.90,131.64 L446.07,133.20 L444.90,134.76 L443.73,133.20 Z" fill="#7b2e91"/>
<path d="M446.10,128.34 L447.27,129.90 L446.10,131.46 L444.93,129.90 Z" fill="#7b2e91"/>
<path d="M448.00,123.34 L449.17,124.90 L448.00,126.46 L446.83,124.90 Z" fill="#7b2e91"/>
<path d="M450.80,118.64 L451.97,120.20 L450.80,121.76 L449.63,120.20 Z" fill="#7b2e91"/>
<path d="M454.10,112.34 L455.27,113.90 L454.10,115.46 L452.93,113.90 Z" fill="#7b2e91"/>
<path d="M457.60,105.54 L458.77,107.10 L457.60,108.66 L456.43,107.10 Z" fill="#7b2e91"/>
<path d="M368.20,56.92 L369.59,54.52 L366.81,54.52 Z" fill="#6fad2f"/>
<path d="M381.60,69.42 L382.99,67.02 L380.21,67.02 Z" fill="#6fad2f"/>
<path d="M393.10,81.32 L394.49,78.92 L391.71,78.92 Z" fill="#6fad2f"/>
<path d="M399.30,92.12 L400.69,89.72 L397.91,89.72 Z" fill="#6fad2f"/>
<path d="M405.20,101.62 L406.59,99.22 L403.81,99.22 Z" fill="#6fad2f"/>
<path d="M410.00,109.52 L411.39,107.12 L408.61,107.12 Z" fill="#6fad2f"/>
<path d="M411.30,115.62 L412.69,113.22 L409.91,113.22 Z" fill="#6fad2f"/>
<path d="M414.30,121.72 L415.69,119.32 L412.91,119.32 Z" fill="#6fad2f"/>
<path d="M416.20,125.32 L417.59,122.92 L414.81,122.92 Z" fill="#6fad2f"/>
<path d="M419.00,129.62 L420.39,127.22 L417.61,127.22 Z" fill="#6fad2f"/>
<path d="M420.90,130.82 L422.29,128.42 L419.51,128.42 Z" fill="#6fad2f"/>
<path d="M423.30,132.12 L424.69,129.72 L421.91,129.72 Z" fill="#6fad2f"/>
<path d="M426.00,133.82 L427.39,131.42 L424.61,131.42 Z" fill="#6fad2f"/>
<path d="M428.50,135.32 L429.89,132.92 L427.11,132.92 Z" fill="#6fad2f"/>
<path d="M431.00,137.32 L432.39,134.92 L429.61,134.92 Z" fill="#6fad2f"/>
<path d="M433.50,139.82 L434.89,137.42 L432.11,137.42 Z" fill="#6fad2f"/>
<path d="M436.00,142.32 L437.39,139.92 L434.61,139.92 Z" fill="#6fad2f"/>
<path d="M438.50,145.32 L439.89,142.92 L437.11,142.92 Z" fill="#6fad2f"/>
<path d="M440.50,148.32 L441.89,145.92 L439.11,145.92 Z" fill="#6fad2f"/>
<path d="M442.50,150.52 L443.89,148.12 L441.11,148.12 Z" fill="#6fad2f"/>
<path d="M445.70,145.02 L447.09,142.62 L444.31,142.62 Z" fill="#6fad2f"/>
<path d="M447.20,141.92 L448.59,139.52 L445.81,139.52 Z" fill="#6fad2f"/>
<path d="M448.00,138.42 L449.39,136.02 L446.61,136.02 Z" fill="#6fad2f"/>
<path d="M448.50,135.32 L449.89,132.92 L447.11,132.92 Z" fill="#6fad2f"/>
<path d="M452.10,129.62 L453.49,127.22 L450.71,127.22 Z" fill="#6fad2f"/>
<path d="M456.20,124.32 L457.59,121.92 L454.81,121.92 Z" fill="#6fad2f"/>
<path d="M458.10,117.42 L459.49,115.02 L456.71,115.02 Z" fill="#6fad2f"/>
<path d="M457.60,113.92 L458.99,111.52 L456.21,111.52 Z" fill="#6fad2f"/>
<path d="M467.00,106.12 L468.39,103.72 L465.61,103.72 Z" fill="#6fad2f"/>
<path d="M469.10,98.52 L470.49,96.12 L467.71,96.12 Z" fill="#6fad2f"/>
<path d="M476.10,87.22 L477.49,84.82 L474.71,84.82 Z" fill="#6fad2f"/>
<path d="M479.30,81.72 L480.69,79.32 L477.91,79.32 Z" fill="#6fad2f"/>
<circle cx="365.40" cy="59.30" r="1.05" fill="#1f71c6"/>
<circle cx="377.90" cy="71.90" r="1.05" fill="#1f71c6"/>
<circle cx="388.90" cy="81.70" r="1.05" fill="#1f71c6"/>
<circle cx="396.20" cy="92.80" r="1.05" fill="#1f71c6"/>
<circle cx="401.40" cy="101.80" r="1.05" fill="#1f71c6"/>
<circle cx="406.30" cy="109.10" r="1.05" fill="#1f71c6"/>
<circle cx="409.50" cy="114.50" r="1.05" fill="#1f71c6"/>
<circle cx="411.50" cy="119.80" r="1.05" fill="#1f71c6"/>
<circle cx="413.40" cy="124.00" r="1.05" fill="#1f71c6"/>
<circle cx="415.40" cy="127.20" r="1.05" fill="#1f71c6"/>
<circle cx="417.80" cy="129.80" r="1.05" fill="#1f71c6"/>
<circle cx="420.10" cy="131.10" r="1.05" fill="#1f71c6"/>
<circle cx="422.80" cy="131.90" r="1.05" fill="#1f71c6"/>
<circle cx="425.50" cy="133.50" r="1.05" fill="#1f71c6"/>
<circle cx="428.00" cy="135.50" r="1.05" fill="#1f71c6"/>
<circle cx="430.50" cy="137.50" r="1.05" fill="#1f71c6"/>
<circle cx="433.00" cy="139.80" r="1.05" fill="#1f71c6"/>
<circle cx="435.50" cy="142.50" r="1.05" fill="#1f71c6"/>
<circle cx="437.50" cy="145.50" r="1.05" fill="#1f71c6"/>
<circle cx="439.50" cy="148.00" r="1.05" fill="#1f71c6"/>
<circle cx="441.50" cy="149.60" r="1.05" fill="#1f71c6"/>
<circle cx="443.50" cy="149.80" r="1.05" fill="#1f71c6"/>
<circle cx="445.00" cy="149.60" r="1.05" fill="#1f71c6"/>
<rect x="394.80" y="179.00" width="2.40" height="2.40" fill="#dc5419"/>
<rect x="410.50" y="181.10" width="2.40" height="2.40" fill="#dc5419"/>
<rect x="421.00" y="183.80" width="2.40" height="2.40" fill="#dc5419"/>
<rect x="431.20" y="188.90" width="2.40" height="2.40" fill="#dc5419"/>
<rect x="439.10" y="195.60" width="2.40" height="2.40" fill="#dc5419"/>
<rect x="443.40" y="200.20" width="2.40" height="2.40" fill="#dc5419"/>
<rect x="446.90" y="204.60" width="2.40" height="2.40" fill="#dc5419"/>
<rect x="449.90" y="209.50" width="2.40" height="2.40" fill="#dc5419"/>
<rect x="452.00" y="213.00" width="2.40" height="2.40" fill="#dc5419"/>
<rect x="453.40" y="216.40" width="2.40" height="2.40" fill="#dc5419"/>
<rect x="454.50" y="219.60" width="2.40" height="2.40" fill="#dc5419"/>
<rect x="455.50" y="222.40" width="2.40" height="2.40" fill="#dc5419"/>
<rect x="456.90" y="224.80" width="2.40" height="2.40" fill="#dc5419"/>
<rect x="459.40" y="226.20" width="2.40" height="2.40" fill="#dc5419"/>
<rect x="460.75" y="226.90" width="2.40" height="2.40" fill="#dc5419"/>
<rect x="462.10" y="227.60" width="2.40" height="2.40" fill="#dc5419"/>
<rect x="464.50" y="228.90" width="2.40" height="2.40" fill="#dc5419"/>
<rect x="465.90" y="231.00" width="2.40" height="2.40" fill="#dc5419"/>
<rect x="467.30" y="232.80" width="2.40" height="2.40" fill="#dc5419"/>
<rect x="468.70" y="232.40" width="2.40" height="2.40" fill="#dc5419"/>
<rect x="470.10" y="231.00" width="2.40" height="2.40" fill="#dc5419"/>
<path d="M396.00,175.45 L397.74,178.45 L394.26,178.45 Z" fill="#eda51f"/>
<path d="M411.70,177.05 L413.44,180.05 L409.96,180.05 Z" fill="#eda51f"/>
<path d="M424.20,179.85 L425.94,182.85 L422.46,182.85 Z" fill="#eda51f"/>
<path d="M436.00,184.85 L437.74,187.85 L434.26,187.85 Z" fill="#eda51f"/>
<path d="M443.50,190.25 L445.24,193.25 L441.76,193.25 Z" fill="#eda51f"/>
<path d="M448.80,196.55 L450.54,199.55 L447.06,199.55 Z" fill="#eda51f"/>
<path d="M453.60,201.15 L455.34,204.15 L451.86,204.15 Z" fill="#eda51f"/>
<path d="M456.90,205.95 L458.64,208.95 L455.16,208.95 Z" fill="#eda51f"/>
<path d="M458.80,210.45 L460.54,213.45 L457.06,213.45 Z" fill="#eda51f"/>
<path d="M460.10,213.65 L461.84,216.65 L458.36,216.65 Z" fill="#eda51f"/>
<path d="M461.10,216.65 L462.84,219.65 L459.36,219.65 Z" fill="#eda51f"/>
<path d="M462.20,219.45 L463.94,222.45 L460.46,222.45 Z" fill="#eda51f"/>
<path d="M464.30,222.95 L466.04,225.95 L462.56,225.95 Z" fill="#eda51f"/>
<path d="M465.70,224.00 L467.44,227.00 L463.96,227.00 Z" fill="#eda51f"/>
<path d="M467.10,225.05 L468.84,228.05 L465.36,228.05 Z" fill="#eda51f"/>
<path d="M468.50,225.75 L470.24,228.75 L466.76,228.75 Z" fill="#eda51f"/>
<path d="M469.90,226.45 L471.64,229.45 L468.16,229.45 Z" fill="#eda51f"/>
<path d="M471.25,227.45 L472.99,230.45 L469.51,230.45 Z" fill="#eda51f"/>
<path d="M472.60,228.45 L474.34,231.45 L470.86,231.45 Z" fill="#eda51f"/>
<path d="M473.65,229.50 L475.39,232.50 L471.91,232.50 Z" fill="#eda51f"/>
<path d="M474.70,230.55 L476.44,233.55 L472.96,233.55 Z" fill="#eda51f"/>
<path d="M476.40,232.25 L478.14,235.25 L474.66,235.25 Z" fill="#eda51f"/>
<path d="M478.20,231.25 L479.94,234.25 L476.46,234.25 Z" fill="#eda51f"/>
<path d="M479.50,229.85 L481.24,232.85 L477.76,232.85 Z" fill="#eda51f"/>
<path d="M466.40,212.40 L467.75,214.20 L466.40,216.00 L465.05,214.20 Z" fill="#7b2e91"/>
<path d="M467.10,214.10 L468.45,215.90 L467.10,217.70 L465.75,215.90 Z" fill="#7b2e91"/>
<path d="M467.80,215.80 L469.15,217.60 L467.80,219.40 L466.45,217.60 Z" fill="#7b2e91"/>
<path d="M468.50,217.55 L469.85,219.35 L468.50,221.15 L467.15,219.35 Z" fill="#7b2e91"/>
<path d="M469.20,219.30 L470.55,221.10 L469.20,222.90 L467.85,221.10 Z" fill="#7b2e91"/>
<path d="M470.25,220.70 L471.60,222.50 L470.25,224.30 L468.90,222.50 Z" fill="#7b2e91"/>
<path d="M471.30,222.10 L472.65,223.90 L471.30,225.70 L469.95,223.90 Z" fill="#7b2e91"/>
<path d="M473.00,223.15 L474.35,224.95 L473.00,226.75 L471.65,224.95 Z" fill="#7b2e91"/>
<path d="M474.70,224.20 L476.05,226.00 L474.70,227.80 L473.35,226.00 Z" fill="#7b2e91"/>
<path d="M476.45,225.25 L477.80,227.05 L476.45,228.85 L475.10,227.05 Z" fill="#7b2e91"/>
<path d="M478.20,226.30 L479.55,228.10 L478.20,229.90 L476.85,228.10 Z" fill="#7b2e91"/>
<path d="M479.60,227.65 L480.95,229.45 L479.60,231.25 L478.25,229.45 Z" fill="#7b2e91"/>
<path d="M481.00,229.00 L482.35,230.80 L481.00,232.60 L479.65,230.80 Z" fill="#7b2e91"/>
<path d="M482.05,230.60 L483.40,232.40 L482.05,234.20 L480.70,232.40 Z" fill="#7b2e91"/>
<path d="M483.10,232.20 L484.45,234.00 L483.10,235.80 L481.75,234.00 Z" fill="#7b2e91"/>
<path d="M484.20,230.70 L485.55,232.50 L484.20,234.30 L482.85,232.50 Z" fill="#7b2e91"/>
<path d="M484.75,229.15 L486.10,230.95 L484.75,232.75 L483.40,230.95 Z" fill="#7b2e91"/>
<path d="M485.30,227.60 L486.65,229.40 L485.30,231.20 L483.95,229.40 Z" fill="#7b2e91"/>
<path d="M485.80,226.25 L487.15,228.05 L485.80,229.85 L484.45,228.05 Z" fill="#7b2e91"/>
<path d="M486.30,224.90 L487.65,226.70 L486.30,228.50 L484.95,226.70 Z" fill="#7b2e91"/>
<path d="M486.75,223.50 L488.10,225.30 L486.75,227.10 L485.40,225.30 Z" fill="#7b2e91"/>
<path d="M487.20,222.10 L488.55,223.90 L487.20,225.70 L485.85,223.90 Z" fill="#7b2e91"/>
<path d="M488.30,219.60 L489.65,221.40 L488.30,223.20 L486.95,221.40 Z" fill="#7b2e91"/>
<path d="M489.40,217.20 L490.75,219.00 L489.40,220.80 L488.05,219.00 Z" fill="#7b2e91"/>
<path d="M490.40,215.20 L491.75,217.00 L490.40,218.80 L489.05,217.00 Z" fill="#7b2e91"/>
<path d="M491.10,213.80 L492.45,215.60 L491.10,217.40 L489.75,215.60 Z" fill="#7b2e91"/>
<path d="M491.80,212.40 L493.15,214.20 L491.80,216.00 L490.45,214.20 Z" fill="#7b2e91"/>
<path d="M492.90,210.30 L494.25,212.10 L492.90,213.90 L491.55,212.10 Z" fill="#7b2e91"/>
<path d="M396.00,174.55 L397.74,171.55 L394.26,171.55 Z" fill="#6fad2f"/>
<path d="M411.70,174.85 L413.44,171.85 L409.96,171.85 Z" fill="#6fad2f"/>
<path d="M426.10,177.35 L427.84,174.35 L424.36,174.35 Z" fill="#6fad2f"/>
<path d="M438.40,182.35 L440.14,179.35 L436.66,179.35 Z" fill="#6fad2f"/>
<path d="M447.60,188.05 L449.34,185.05 L445.86,185.05 Z" fill="#6fad2f"/>
<path d="M454.30,194.75 L456.04,191.75 L452.56,191.75 Z" fill="#6fad2f"/>
<path d="M460.40,200.55 L462.14,197.55 L458.66,197.55 Z" fill="#6fad2f"/>
<path d="M463.60,205.85 L465.34,202.85 L461.86,202.85 Z" fill="#6fad2f"/>
<path d="M466.40,210.95 L468.14,207.95 L464.66,207.95 Z" fill="#6fad2f"/>
<path d="M468.50,215.15 L470.24,212.15 L466.76,212.15 Z" fill="#6fad2f"/>
<path d="M468.97,216.75 L470.71,213.75 L467.23,213.75 Z" fill="#6fad2f"/>
<path d="M469.43,218.35 L471.17,215.35 L467.69,215.35 Z" fill="#6fad2f"/>
<path d="M469.90,219.95 L471.64,216.95 L468.16,216.95 Z" fill="#6fad2f"/>
<path d="M470.90,221.50 L472.64,218.50 L469.16,218.50 Z" fill="#6fad2f"/>
<path d="M471.90,223.05 L473.64,220.05 L470.16,220.05 Z" fill="#6fad2f"/>
<path d="M474.00,224.85 L475.74,221.85 L472.26,221.85 Z" fill="#6fad2f"/>
<path d="M475.40,225.55 L477.14,222.55 L473.66,222.55 Z" fill="#6fad2f"/>
<path d="M476.80,226.25 L478.54,223.25 L475.06,223.25 Z" fill="#6fad2f"/>
<path d="M478.20,227.30 L479.94,224.30 L476.46,224.30 Z" fill="#6fad2f"/>
<path d="M479.60,228.35 L481.34,225.35 L477.86,225.35 Z" fill="#6fad2f"/>
<path d="M480.65,229.60 L482.39,226.60 L478.91,226.60 Z" fill="#6fad2f"/>
<path d="M481.70,230.85 L483.44,227.85 L479.96,227.85 Z" fill="#6fad2f"/>
<path d="M482.75,232.00 L484.49,229.00 L481.01,229.00 Z" fill="#6fad2f"/>
<path d="M483.80,233.15 L485.54,230.15 L482.06,230.15 Z" fill="#6fad2f"/>
<path d="M485.10,235.25 L486.84,232.25 L483.36,232.25 Z" fill="#6fad2f"/>
<path d="M486.50,233.15 L488.24,230.15 L484.76,230.15 Z" fill="#6fad2f"/>
<path d="M488.30,231.05 L490.04,228.05 L486.56,228.05 Z" fill="#6fad2f"/>
<path d="M488.85,229.70 L490.59,226.70 L487.11,226.70 Z" fill="#6fad2f"/>
<path d="M489.40,228.35 L491.14,225.35 L487.66,225.35 Z" fill="#6fad2f"/>
<path d="M490.40,226.95 L492.14,223.95 L488.66,223.95 Z" fill="#6fad2f"/>
<path d="M491.10,225.70 L492.84,222.70 L489.36,222.70 Z" fill="#6fad2f"/>
<path d="M491.80,224.45 L493.54,221.45 L490.06,221.45 Z" fill="#6fad2f"/>
<path d="M492.50,222.75 L494.24,219.75 L490.76,219.75 Z" fill="#6fad2f"/>
<path d="M492.70,221.00 L494.44,218.00 L490.96,218.00 Z" fill="#6fad2f"/>
<path d="M492.90,219.25 L494.64,216.25 L491.16,216.25 Z" fill="#6fad2f"/>
<path d="M493.50,216.95 L495.24,213.95 L491.76,213.95 Z" fill="#6fad2f"/>
<path d="M498.10,213.05 L499.84,210.05 L496.36,210.05 Z" fill="#6fad2f"/>
<path d="M499.20,209.25 L500.94,206.25 L497.46,206.25 Z" fill="#6fad2f"/>
<path d="M502.20,204.05 L503.94,201.05 L500.46,201.05 Z" fill="#6fad2f"/>
<path d="M504.00,200.95 L505.74,197.95 L502.26,197.95 Z" fill="#6fad2f"/>
<path d="M508.20,196.05 L509.94,193.05 L506.46,193.05 Z" fill="#6fad2f"/>
<path d="M515.40,183.15 L517.14,180.15 L513.66,180.15 Z" fill="#6fad2f"/>
<path d="M523.90,179.05 L525.64,176.05 L522.16,176.05 Z" fill="#6fad2f"/>
<path d="M533.30,174.95 L535.04,171.95 L531.56,171.95 Z" fill="#6fad2f"/>
<path d="M548.40,162.45 L550.14,159.45 L546.66,159.45 Z" fill="#6fad2f"/>
<path d="M546.50,139.85 L548.24,136.85 L544.76,136.85 Z" fill="#6fad2f"/>
<circle cx="396.00" cy="174.90" r="1.30" fill="#1f71c6"/>
<circle cx="411.70" cy="176.00" r="1.30" fill="#1f71c6"/>
<circle cx="425.30" cy="177.60" r="1.30" fill="#1f71c6"/>
<circle cx="437.10" cy="182.00" r="1.30" fill="#1f71c6"/>
<circle cx="445.80" cy="188.50" r="1.30" fill="#1f71c6"/>
<circle cx="452.90" cy="195.10" r="1.30" fill="#1f71c6"/>
<circle cx="458.10" cy="199.60" r="1.30" fill="#1f71c6"/>
<circle cx="461.50" cy="205.60" r="1.30" fill="#1f71c6"/>
<circle cx="464.60" cy="210.30" r="1.30" fill="#1f71c6"/>
<circle cx="466.80" cy="214.50" r="1.30" fill="#1f71c6"/>
<circle cx="468.80" cy="218.00" r="1.30" fill="#1f71c6"/>
<circle cx="469.90" cy="219.50" r="1.30" fill="#1f71c6"/>
<circle cx="471.00" cy="221.00" r="1.30" fill="#1f71c6"/>
<circle cx="472.25" cy="222.25" r="1.30" fill="#1f71c6"/>
<circle cx="473.50" cy="223.50" r="1.30" fill="#1f71c6"/>
<circle cx="475.00" cy="224.50" r="1.30" fill="#1f71c6"/>
<circle cx="476.50" cy="225.50" r="1.30" fill="#1f71c6"/>
<circle cx="478.00" cy="226.50" r="1.30" fill="#1f71c6"/>
<circle cx="479.50" cy="227.50" r="1.30" fill="#1f71c6"/>
<circle cx="480.75" cy="228.75" r="1.30" fill="#1f71c6"/>
<circle cx="482.00" cy="230.00" r="1.30" fill="#1f71c6"/>
<circle cx="483.00" cy="231.25" r="1.30" fill="#1f71c6"/>
<circle cx="484.00" cy="232.50" r="1.30" fill="#1f71c6"/>
<circle cx="485.50" cy="234.30" r="1.30" fill="#1f71c6"/>
<circle cx="487.20" cy="234.30" r="1.30" fill="#1f71c6"/>
<text x="400.70" y="203.80" font-size="7.80" fill="#000" >Bulk</text>
<path d="M416.7,201.4 L431.1,192" stroke="#111" stroke-width="0.8"/>
<text x="384.50" y="232.90" font-size="7.80" fill="#000" >Grain Boundary</text>
<path d="M438.5,230.8 L461,229.2" stroke="#111" stroke-width="0.8"/>
<text x="519.00" y="212.50" font-size="7.80" fill="#000" >Li/LLZO</text>
<text x="518.30" y="221.90" font-size="7.80" fill="#000" >Interface</text>
<path d="M505,201.4 L517.5,209.3" stroke="#111" stroke-width="0.8"/>
<clipPath id="cp1"><path d="M36.00,281.00 L208.30,281.00 L208.30,291.00 L201.40,308.80 L36.00,308.80 Z"/></clipPath><g clip-path="url(#cp1)">
<path d="M36.00,281.00 L208.30,281.00 L208.30,289.60 L36.00,291.80 Z" fill="#808080" filter="url(#f780_350_0p45_0p09_11_2)"/>
<mask id="mk2" maskUnits="userSpaceOnUse" x="0" y="0" width="725" height="382"><rect x="36.00" y="284.00" width="172.30" height="7.80" fill="url(#vfade)"/></mask>
<g mask="url(#mk2)" opacity="0.60"><path d="M36.00,284.00 L208.30,284.00 L208.30,289.60 L36.00,291.80 Z" fill="#808080" filter="url(#f700_100_0p55_0p025_14_1)"/></g>
<path d="M36.00,291.60 L208.30,289.40 L208.30,301.50 L36.00,302.10 Z" fill="#808080" filter="url(#f225_80_0p55_0p025_17_1)"/>
<path d="M36.00,301.90 L208.30,301.30 L208.30,309.00 L36.00,309.00 Z" fill="#808080" filter="url(#f700_60_0p55_0p025_20_1)"/>
<path d="M36,292.4 L38.6,292.4 Q40.5,299 43.2,302.1 L44.5,309 L36,309 Z" fill="#e4e4e4"/>
<path d="M204.3,289.5 L208.3,289.5 L208.3,291.2 L204.6,302.3 L201.3,302.3 Z" fill="#cdcdcd"/>
<ellipse cx="107.4" cy="304.1" rx="1.5" ry="0.9" fill="#333"/>
<ellipse cx="66" cy="302.2" rx="6.5" ry="1.1" fill="#3a3a3a"/>
</g>
<clipPath id="cp3"><path d="M211.30,281.00 L382.50,281.00 L382.50,298.00 L380.00,308.80 L215.30,308.80 L211.30,294.00 Z"/></clipPath><g clip-path="url(#cp3)">
<clipPath id="cp4"><path d="M211.30,281.00 L382.50,281.00 L382.50,293.50 L211.30,293.50 Z"/></clipPath><g clip-path="url(#cp4)"><g transform="rotate(52 296.9 287.2)"><rect x="191.3" y="181.7" width="211.2" height="211.2" fill="#808080" filter="url(#f730_700_0p26_0p38_21_2)"/></g></g>
<mask id="mk5" maskUnits="userSpaceOnUse" x="0" y="0" width="725" height="382"><rect x="211.30" y="284.00" width="171.20" height="9.50" fill="url(#vfade)"/></mask>
<g mask="url(#mk5)"><path d="M211.30,284.00 L382.50,284.00 L382.50,293.50 L211.30,293.50 Z" fill="#808080" filter="url(#f580_140_0p55_0p025_24_1)"/></g>
<path d="M211.30,293.30 L382.50,293.30 L382.50,300.20 L211.30,300.20 Z" fill="#808080" filter="url(#f560_120_0p55_0p025_27_1)"/>
<path d="M211.30,300.00 L382.50,300.00 L382.50,302.40 L211.30,302.40 Z" fill="#808080" filter="url(#f100_40_0p55_0p025_30_1)"/>
<path d="M211.30,302.20 L382.50,302.20 L382.50,309.00 L211.30,309.00 Z" fill="#808080" filter="url(#f520_120_0p55_0p025_33_1)"/>
</g>
<clipPath id="cp6"><path d="M386.60,281.00 L556.80,281.00 L556.80,308.80 L388.10,308.80 L386.60,301.00 Z"/></clipPath><g clip-path="url(#cp6)">
<clipPath id="cp7"><path d="M386.60,281.00 L556.80,281.00 L556.80,293.80 L386.60,293.80 Z"/></clipPath><g clip-path="url(#cp7)"><g transform="rotate(52 471.7 287.4)"><rect x="366.6" y="182.3" width="210.2" height="210.2" fill="#808080" filter="url(#f620_1050_0p26_0p38_31_2)"/></g></g>
<mask id="mk8" maskUnits="userSpaceOnUse" x="0" y="0" width="725" height="382"><rect x="386.60" y="284.00" width="170.20" height="9.80" fill="url(#vfade)"/></mask>
<g mask="url(#mk8)"><path d="M386.60,284.00 L556.80,284.00 L556.80,293.80 L386.60,293.80 Z" fill="#808080" filter="url(#f550_140_0p55_0p025_34_1)"/></g>
<path d="M386.60,293.60 L556.80,293.60 L556.80,300.80 L386.60,300.80 Z" fill="#808080" filter="url(#f530_120_0p55_0p025_37_1)"/>
<path d="M386.60,300.60 L556.80,300.60 L556.80,302.70 L386.60,302.70 Z" fill="#808080" filter="url(#f80_40_0p55_0p025_40_1)"/>
<path d="M386.60,302.50 L556.80,302.50 L556.80,309.00 L386.60,309.00 Z" fill="#808080" filter="url(#f450_120_0p55_0p025_43_1)"/>
</g>
<clipPath id="cp9"><path d="M36.00,312.00 L208.30,312.00 L208.30,333.50 L204.20,339.70 L36.00,339.70 Z"/></clipPath><g clip-path="url(#cp9)">
<clipPath id="cp10"><path d="M36.00,312.00 L208.30,312.00 L208.30,325.30 L36.00,326.90 Z"/></clipPath><g clip-path="url(#cp10)"><g transform="rotate(52 122.2 319.4)"><rect x="16.0" y="213.3" width="212.3" height="212.3" fill="#808080" filter="url(#f790_320_0p26_0p38_41_2)"/></g></g>
<mask id="mk11" maskUnits="userSpaceOnUse" x="0" y="0" width="725" height="382"><rect x="36.00" y="316.00" width="172.30" height="10.90" fill="url(#vfade)"/></mask>
<g mask="url(#mk11)" opacity="0.70"><path d="M36.00,316.00 L208.30,316.00 L208.30,325.30 L36.00,326.90 Z" fill="#808080" filter="url(#f700_100_0p55_0p025_44_1)"/></g>
<path d="M36.00,326.70 L208.30,325.10 L208.30,336.00 L36.00,336.70 Z" fill="#808080" filter="url(#f230_80_0p55_0p025_47_1)"/>
<path d="M36.00,336.50 L208.30,335.80 L208.30,340.00 L36.00,340.00 Z" fill="#808080" filter="url(#f700_60_0p55_0p025_50_1)"/>
<path d="M36,325 L39.6,327.5 L43.3,336.9 L44,340 L36,340 Z" fill="#e6e6e6"/>
</g>
<clipPath id="cp12"><path d="M211.30,312.00 L382.50,312.00 L382.50,330.00 L380.00,339.70 L215.30,339.70 L211.30,325.00 Z"/></clipPath><g clip-path="url(#cp12)">
<clipPath id="cp13"><path d="M211.30,312.00 L382.50,312.00 L382.50,325.20 L211.30,325.60 Z"/></clipPath><g clip-path="url(#cp13)"><g transform="rotate(52 296.9 318.8)"><rect x="191.3" y="213.2" width="211.2" height="211.2" fill="#808080" filter="url(#f740_700_0p26_0p38_51_2)"/></g></g>
<mask id="mk14" maskUnits="userSpaceOnUse" x="0" y="0" width="725" height="382"><rect x="211.30" y="315.00" width="171.20" height="10.60" fill="url(#vfade)"/></mask>
<g mask="url(#mk14)"><path d="M211.30,315.00 L382.50,315.00 L382.50,325.20 L211.30,325.60 Z" fill="#808080" filter="url(#f600_140_0p55_0p025_54_1)"/></g>
<path d="M211.30,325.40 L382.50,325.00 L382.50,331.00 L211.30,331.40 Z" fill="#808080" filter="url(#f580_120_0p55_0p025_57_1)"/>
<path d="M211.30,331.20 L382.50,330.80 L382.50,333.80 L211.30,334.20 Z" fill="#808080" filter="url(#f120_40_0p55_0p025_60_1)"/>
<path d="M211.30,334.00 L382.50,333.60 L382.50,340.00 L211.30,340.00 Z" fill="#808080" filter="url(#f560_120_0p55_0p025_63_1)"/>
</g>
<clipPath id="cp15"><path d="M386.60,312.00 L556.80,312.00 L556.80,334.00 L554.80,339.70 L388.60,339.70 L386.60,331.00 Z"/></clipPath><g clip-path="url(#cp15)">
<clipPath id="cp16"><path d="M386.60,312.00 L556.80,312.00 L556.80,326.40 L386.60,326.80 Z"/></clipPath><g clip-path="url(#cp16)"><g transform="rotate(52 471.7 319.4)"><rect x="366.6" y="214.3" width="210.2" height="210.2" fill="#808080" filter="url(#f630_1050_0p26_0p38_61_2)"/></g></g>
<mask id="mk17" maskUnits="userSpaceOnUse" x="0" y="0" width="725" height="382"><rect x="386.60" y="315.00" width="170.20" height="11.80" fill="url(#vfade)"/></mask>
<g mask="url(#mk17)"><path d="M386.60,315.00 L556.80,315.00 L556.80,326.40 L386.60,326.80 Z" fill="#808080" filter="url(#f570_140_0p55_0p025_64_1)"/></g>
<path d="M386.60,326.60 L556.80,326.20 L556.80,332.10 L386.60,332.50 Z" fill="#808080" filter="url(#f560_120_0p55_0p025_67_1)"/>
<path d="M386.60,332.30 L556.80,331.90 L556.80,334.60 L386.60,335.00 Z" fill="#808080" filter="url(#f110_40_0p55_0p025_70_1)"/>
<path d="M386.60,334.80 L556.80,334.40 L556.80,340.00 L386.60,340.00 Z" fill="#808080" filter="url(#f540_120_0p55_0p025_73_1)"/>
</g>
<clipPath id="cp18"><path d="M36.00,342.50 L208.30,342.50 L208.30,353.00 L203.30,370.00 L36.00,370.00 Z"/></clipPath><g clip-path="url(#cp18)">
<clipPath id="cp19"><path d="M36.00,342.50 L208.30,342.50 L208.30,353.20 L36.00,360.80 Z"/></clipPath><g clip-path="url(#cp19)"><g transform="rotate(52 122.2 351.6)"><rect x="16.0" y="245.5" width="212.3" height="212.3" fill="#808080" filter="url(#f780_320_0p26_0p38_71_2)"/></g></g>
<mask id="mk20" maskUnits="userSpaceOnUse" x="0" y="0" width="725" height="382"><rect x="36.00" y="346.00" width="172.30" height="14.80" fill="url(#vfade)"/></mask>
<g mask="url(#mk20)" opacity="0.70"><path d="M36.00,347.00 L208.30,346.00 L208.30,353.20 L36.00,360.80 Z" fill="#808080" filter="url(#f720_100_0p55_0p025_74_1)"/></g>
<path d="M36.00,360.60 L208.30,353.00 L208.30,364.80 L36.00,364.80 Z" fill="#808080" filter="url(#f260_250_0p45_0p22_77_2)"/>
<path d="M36.00,364.60 L208.30,364.60 L208.30,370.00 L36.00,370.00 Z" fill="#808080" filter="url(#f720_60_0p55_0p025_80_1)"/>
<ellipse cx="151" cy="355.6" rx="3.6" ry="2.4" fill="#a2a2a2"/>
<path d="M160,354.2 Q170,352.6 179,354 L179.5,357.2 Q170,359.6 160.5,357.6 Z" fill="#9c9c9c"/>
<ellipse cx="187.5" cy="355.5" rx="1.6" ry="3.2" fill="#a8a8a8"/>
<path d="M190,353.2 L205,353.0 L204,365 L190,365 Z" fill="#505050" opacity="0.7"/>
<ellipse cx="51" cy="365.6" rx="2.8" ry="1.6" fill="#444"/>
</g>
<clipPath id="cp21"><path d="M211.30,342.50 L382.50,342.50 L382.50,356.00 L380.00,370.00 L214.80,370.00 L211.30,355.00 Z"/></clipPath><g clip-path="url(#cp21)">
<clipPath id="cp22"><path d="M211.30,342.50 L382.50,342.50 L382.50,350.20 L211.30,354.20 Z"/></clipPath><g clip-path="url(#cp22)"><g transform="rotate(52 296.9 348.4)"><rect x="191.3" y="242.8" width="211.2" height="211.2" fill="#808080" filter="url(#f750_650_0p26_0p38_81_2)"/></g></g>
<mask id="mk23" maskUnits="userSpaceOnUse" x="0" y="0" width="725" height="382"><rect x="211.30" y="344.00" width="171.20" height="10.20" fill="url(#vfade)"/></mask>
<g mask="url(#mk23)" opacity="0.90"><path d="M211.30,346.00 L382.50,344.00 L382.50,350.20 L211.30,354.20 Z" fill="#808080" filter="url(#f620_140_0p55_0p025_84_1)"/></g>
<path d="M211.30,354.00 L382.50,350.00 L382.50,362.60 L211.30,364.20 Z" fill="#808080" filter="url(#f270_220_0p45_0p22_87_2)"/>
<path d="M211.30,364.00 L382.50,362.40 L382.50,370.00 L211.30,370.00 Z" fill="#808080" filter="url(#f660_80_0p55_0p025_90_1)"/>
<path d="M340,351.6 L382.5,350.5 L382.5,357 L340,358 Z" fill="#6a6a6a" opacity="0.8"/>
<ellipse cx="259" cy="370" rx="3" ry="2" fill="#fff"/>
</g>
<clipPath id="cp24"><path d="M386.60,342.50 L556.80,342.50 L556.80,356.00 L553.30,370.00 L388.60,370.00 L386.60,362.00 Z"/></clipPath><g clip-path="url(#cp24)">
<clipPath id="cp25"><path d="M386.60,342.50 L556.80,342.50 L556.80,355.00 L386.60,355.40 Z"/></clipPath><g clip-path="url(#cp25)"><g transform="rotate(52 471.7 348.9)"><rect x="366.6" y="243.9" width="210.2" height="210.2" fill="#808080" filter="url(#f630_1050_0p26_0p38_91_2)"/></g></g>
<mask id="mk26" maskUnits="userSpaceOnUse" x="0" y="0" width="725" height="382"><rect x="386.60" y="346.00" width="170.20" height="9.40" fill="url(#vfade)"/></mask>
<g mask="url(#mk26)"><path d="M386.60,346.00 L556.80,346.00 L556.80,355.00 L386.60,355.40 Z" fill="#808080" filter="url(#f550_140_0p55_0p025_94_1)"/></g>
<path d="M386.60,355.20 L556.80,354.80 L556.80,356.60 L386.60,357.00 Z" fill="#808080" filter="url(#f70_40_0p55_0p025_97_1)"/>
<path d="M386.60,356.80 L556.80,356.40 L556.80,366.00 L386.60,366.40 Z" fill="#808080" filter="url(#f240_200_0p45_0p22_100_2)"/>
<path d="M386.60,366.20 L556.80,365.80 L556.80,370.00 L386.60,370.00 Z" fill="#808080" filter="url(#f600_100_0p55_0p025_103_1)"/>
<path d="M490,357 L556.8,356.6 L556.8,366 L490,366.4 Z" fill="#555" opacity="0.6"/>
<rect x="491.0" y="357.5" width="1.5" height="8.5" fill="#8a8a8a" opacity="0.55"/>
<rect x="496.0" y="357.5" width="2.5" height="8.5" fill="#8a8a8a" opacity="0.55"/>
<rect x="506.0" y="357.5" width="1.2" height="8.5" fill="#8a8a8a" opacity="0.55"/>
<rect x="512.0" y="357.5" width="3.0" height="8.5" fill="#8a8a8a" opacity="0.55"/>
<rect x="520.0" y="357.5" width="1.4" height="8.5" fill="#8a8a8a" opacity="0.55"/>
<rect x="527.0" y="357.5" width="2.2" height="8.5" fill="#8a8a8a" opacity="0.55"/>
<rect x="533.0" y="357.5" width="1.0" height="8.5" fill="#8a8a8a" opacity="0.55"/>
<rect x="538.0" y="357.5" width="2.8" height="8.5" fill="#8a8a8a" opacity="0.55"/>
<rect x="548.0" y="357.5" width="1.5" height="8.5" fill="#8a8a8a" opacity="0.55"/>
<ellipse cx="405.0" cy="361.0" rx="4.0" ry="1.5" fill="#777" opacity="0.6"/>
<ellipse cx="420.0" cy="360.0" rx="3.0" ry="1.2" fill="#777" opacity="0.6"/>
<ellipse cx="445.0" cy="361.5" rx="5.0" ry="1.6" fill="#777" opacity="0.6"/>
<ellipse cx="462.0" cy="360.5" rx="3.5" ry="1.5" fill="#777" opacity="0.6"/>
<ellipse cx="470.0" cy="362.5" rx="3.0" ry="1.2" fill="#777" opacity="0.6"/>
<rect x="386.6" y="367.5" width="170.2" height="2.5" fill="#9a9a9a"/>
</g>
<text x="40.00" y="291.40" font-size="9.60" font-weight="bold" fill="#111" >i</text>
<text x="213.30" y="291.40" font-size="9.60" font-weight="bold" fill="#111" >ii</text>
<text x="388.60" y="291.40" font-size="9.60" font-weight="bold" fill="#111" >iii</text>
<text x="38.00" y="322.40" font-size="9.60" font-weight="bold" fill="#111" >iv</text>
<text x="213.30" y="322.40" font-size="9.60" font-weight="bold" fill="#111" >v</text>
<text x="388.60" y="322.40" font-size="9.60" font-weight="bold" fill="#111" >vi</text>
<text x="38.00" y="352.90" font-size="9.60" font-weight="bold" fill="#111" >vii</text>
<text x="213.30" y="352.90" font-size="9.60" font-weight="bold" fill="#111" >vii</text>
<text x="388.60" y="352.90" font-size="9.60" font-weight="bold" fill="#111" >ix</text>
<rect x="162.60" y="282.10" width="41.50" height="1.8" fill="#e5141b"/>
<rect x="162.60" y="313.50" width="41.50" height="1.8" fill="#e5141b"/>
<rect x="162.60" y="343.70" width="41.50" height="1.8" fill="#e5141b"/>
<rect x="337.10" y="282.10" width="42.00" height="1.8" fill="#e5141b"/>
<rect x="337.10" y="313.50" width="42.00" height="1.8" fill="#e5141b"/>
<rect x="337.10" y="343.70" width="42.00" height="1.8" fill="#e5141b"/>
<rect x="513.30" y="282.10" width="41.30" height="1.8" fill="#e5141b"/>
<rect x="513.30" y="313.50" width="41.30" height="1.8" fill="#e5141b"/>
<rect x="513.30" y="343.70" width="41.30" height="1.8" fill="#e5141b"/>
<text x="172.90" y="290.60" font-size="7.90" fill="#f4f4f4"  textLength="21.00" lengthAdjust="spacingAndGlyphs">50 &#956;m</text>
<text x="32.00" y="298.10" font-size="10.20" font-weight="bold" text-anchor="end" fill="#000"  textLength="29.40" lengthAdjust="spacingAndGlyphs">Center</text>
<text x="32.00" y="330.90" font-size="10.20" font-weight="bold" text-anchor="end" fill="#000"  textLength="30.20" lengthAdjust="spacingAndGlyphs">Middle</text>
<text x="32.00" y="359.40" font-size="10.20" font-weight="bold" text-anchor="end" fill="#000"  textLength="22.60" lengthAdjust="spacingAndGlyphs">Edge</text>
<rect x="116" y="270.6" width="8.1" height="8.1" fill="#dc5419"/>
<path d="M296.7,269.2 L301.7,278.7 L291.8,278.7 Z" fill="#eda51f"/>
<path d="M472.5,269.5 L476.2,274.7 L472.5,279.8 L468.8,274.7 Z" fill="#7b2e91"/>
<rect x="570.90" y="31.90" width="153.10" height="153.10" fill="#808080" filter="url(#t37691_0p42_0p42_4_2)" />
<rect x="570.90" y="31.90" width="153.10" height="153.10" fill="#808080" filter="url(#f500_1000_0p9_0p9_14_1)" opacity="0.15"/>
<rect x="570.90" y="31.90" width="153.10" height="153.10" fill="#808080" filter="url(#f500_2200_0p025_0p025_23_2)" opacity="0.07"/>
<ellipse cx="632.8" cy="63.5" rx="3.5" ry="3.0" fill="#1c1c1c" opacity="0.55"/>
<ellipse cx="708.2" cy="151.5" rx="3.0" ry="3.0" fill="#1c1c1c" opacity="0.75"/>
<ellipse cx="596.0" cy="151.5" rx="2.0" ry="2.0" fill="#1c1c1c" opacity="0.45"/>
<ellipse cx="611.9" cy="111.7" rx="2.0" ry="2.0" fill="#1c1c1c" opacity="0.55"/>
<ellipse cx="714.5" cy="120.0" rx="2.2" ry="2.2" fill="#1c1c1c" opacity="0.60"/>
<ellipse cx="572.0" cy="44.7" rx="2.0" ry="3.0" fill="#1c1c1c" opacity="0.55"/>
<ellipse cx="655.9" cy="97.0" rx="1.6" ry="1.6" fill="#1c1c1c" opacity="0.55"/>
<ellipse cx="650.0" cy="150.0" rx="1.5" ry="1.5" fill="#1c1c1c" opacity="0.35"/>
<ellipse cx="625.0" cy="80.0" rx="1.5" ry="1.5" fill="#1c1c1c" opacity="0.40"/>
<ellipse cx="690.0" cy="70.0" rx="1.3" ry="1.3" fill="#1c1c1c" opacity="0.40"/>
<ellipse cx="662.0" cy="116.0" rx="1.6" ry="2.2" fill="#1c1c1c" opacity="0.55"/>
<ellipse cx="589.5" cy="122.5" rx="1.3" ry="1.3" fill="#1c1c1c" opacity="0.50"/>
<ellipse cx="672.0" cy="89.0" rx="1.2" ry="1.2" fill="#1c1c1c" opacity="0.50"/>
<ellipse cx="700.0" cy="95.0" rx="1.2" ry="1.2" fill="#1c1c1c" opacity="0.40"/>
<ellipse cx="580.0" cy="170.0" rx="1.4" ry="1.4" fill="#1c1c1c" opacity="0.45"/>
<ellipse cx="720.0" cy="60.0" rx="1.5" ry="2.5" fill="#1c1c1c" opacity="0.50"/>
<path d="M644.6,101.6 C648.5,101.6 650,104.5 649.8,107.5 C649.5,110.8 647,112.8 644.2,112.8 C641,112.8 638.8,110 638.9,107 C639,104 641.2,101.6 644.6,101.6 Z" fill="#1c1c1c" stroke="#8e8e8e" stroke-width="0.7"/>
<rect x="570.90" y="217.10" width="153.10" height="152.30" fill="#808080" filter="url(#t18910_0p42_0p42_7_2)" />
<rect x="570.90" y="217.10" width="153.10" height="152.30" fill="#808080" filter="url(#f500_1000_0p9_0p9_17_1)" opacity="0.15"/>
<rect x="570.90" y="217.10" width="153.10" height="152.30" fill="#808080" filter="url(#f400_2200_0p025_0p025_29_2)" opacity="0.07"/>
<filter id="blur3" x="-50%" y="-50%" width="200%" height="200%"><feGaussianBlur stdDeviation="3"/></filter>
<filter id="blur1" x="-50%" y="-50%" width="200%" height="200%"><feGaussianBlur stdDeviation="0.8"/></filter>
<ellipse cx="621" cy="240" rx="11" ry="7" fill="#1a1a1a" opacity="0.55" filter="url(#blur3)"/>
<ellipse cx="635" cy="62" rx="6" ry="5" fill="#1a1a1a" opacity="0.35" filter="url(#blur3)"/>
<circle cx="690.2" cy="253.1" r="1.9" fill="none" stroke="#a8a8a8" stroke-width="0.7" opacity="0.55"/>
<circle cx="703.1" cy="245.1" r="1.4" fill="none" stroke="#a8a8a8" stroke-width="0.7" opacity="0.55"/>
<circle cx="718.6" cy="266.4" r="0.9" fill="none" stroke="#a8a8a8" stroke-width="0.7" opacity="0.55"/>
<circle cx="670.1" cy="243.6" r="1.5" fill="none" stroke="#a8a8a8" stroke-width="0.7" opacity="0.55"/>
<circle cx="627.8" cy="222.9" r="1.9" fill="none" stroke="#a8a8a8" stroke-width="0.7" opacity="0.55"/>
<circle cx="696.4" cy="258.3" r="1.0" fill="none" stroke="#a8a8a8" stroke-width="0.7" opacity="0.55"/>
<circle cx="682.3" cy="240.3" r="1.8" fill="none" stroke="#a8a8a8" stroke-width="0.7" opacity="0.55"/>
<circle cx="645.9" cy="241.3" r="1.8" fill="none" stroke="#a8a8a8" stroke-width="0.7" opacity="0.55"/>
<circle cx="662.2" cy="237.0" r="1.6" fill="none" stroke="#a8a8a8" stroke-width="0.7" opacity="0.55"/>
<circle cx="654.1" cy="236.4" r="2.0" fill="none" stroke="#a8a8a8" stroke-width="0.7" opacity="0.55"/>
<circle cx="709.8" cy="256.0" r="1.0" fill="none" stroke="#a8a8a8" stroke-width="0.7" opacity="0.55"/>
<circle cx="638.2" cy="228.1" r="1.5" fill="none" stroke="#a8a8a8" stroke-width="0.7" opacity="0.55"/>
<circle cx="632.4" cy="223.5" r="1.2" fill="none" stroke="#a8a8a8" stroke-width="0.7" opacity="0.55"/>
<circle cx="705.1" cy="252.5" r="1.4" fill="none" stroke="#a8a8a8" stroke-width="0.7" opacity="0.55"/>
<circle cx="689.5" cy="259.0" r="0.8" fill="none" stroke="#a8a8a8" stroke-width="0.7" opacity="0.55"/>
<circle cx="703.1" cy="245.3" r="1.7" fill="none" stroke="#a8a8a8" stroke-width="0.7" opacity="0.55"/>
<circle cx="664.6" cy="231.3" r="0.9" fill="none" stroke="#a8a8a8" stroke-width="0.7" opacity="0.55"/>
<circle cx="652.1" cy="227.7" r="1.7" fill="none" stroke="#a8a8a8" stroke-width="0.7" opacity="0.55"/>
<circle cx="720.8" cy="257.0" r="1.2" fill="none" stroke="#a8a8a8" stroke-width="0.7" opacity="0.55"/>
<circle cx="681.6" cy="238.6" r="1.7" fill="none" stroke="#a8a8a8" stroke-width="0.7" opacity="0.55"/>
<circle cx="707.7" cy="247.3" r="1.9" fill="none" stroke="#a8a8a8" stroke-width="0.7" opacity="0.55"/>
<circle cx="636.5" cy="231.1" r="1.9" fill="none" stroke="#a8a8a8" stroke-width="0.7" opacity="0.55"/>
<circle cx="666.4" cy="239.0" r="1.2" fill="none" stroke="#a8a8a8" stroke-width="0.7" opacity="0.55"/>
<circle cx="655.3" cy="230.7" r="1.0" fill="none" stroke="#a8a8a8" stroke-width="0.7" opacity="0.55"/>
<circle cx="699.4" cy="245.4" r="0.9" fill="none" stroke="#a8a8a8" stroke-width="0.7" opacity="0.55"/>
<circle cx="721.2" cy="260.0" r="1.1" fill="none" stroke="#a8a8a8" stroke-width="0.7" opacity="0.55"/>
<circle cx="688.6" cy="246.7" r="1.3" fill="none" stroke="#a8a8a8" stroke-width="0.7" opacity="0.55"/>
<circle cx="640.1" cy="220.5" r="1.4" fill="none" stroke="#a8a8a8" stroke-width="0.7" opacity="0.55"/>
<circle cx="702.7" cy="259.9" r="1.9" fill="none" stroke="#a8a8a8" stroke-width="0.7" opacity="0.55"/>
<circle cx="691.5" cy="242.4" r="1.3" fill="none" stroke="#a8a8a8" stroke-width="0.7" opacity="0.55"/>
<circle cx="647.9" cy="228.1" r="1.3" fill="none" stroke="#a8a8a8" stroke-width="0.7" opacity="0.55"/>
<circle cx="726.2" cy="269.6" r="1.3" fill="none" stroke="#a8a8a8" stroke-width="0.7" opacity="0.55"/>
<circle cx="677.7" cy="243.2" r="1.1" fill="none" stroke="#a8a8a8" stroke-width="0.7" opacity="0.55"/>
<circle cx="662.9" cy="238.6" r="2.0" fill="none" stroke="#a8a8a8" stroke-width="0.7" opacity="0.55"/>
<circle cx="719.8" cy="260.5" r="1.2" fill="none" stroke="#a8a8a8" stroke-width="0.7" opacity="0.55"/>
<circle cx="635.5" cy="233.7" r="1.8" fill="none" stroke="#a8a8a8" stroke-width="0.7" opacity="0.55"/>
<circle cx="666.7" cy="243.4" r="1.6" fill="none" stroke="#a8a8a8" stroke-width="0.7" opacity="0.55"/>
<circle cx="694.2" cy="247.7" r="1.6" fill="none" stroke="#a8a8a8" stroke-width="0.7" opacity="0.55"/>
<circle cx="615.7" cy="291.9" r="1.4" fill="none" stroke="#9c9c9c" stroke-width="0.6" opacity="0.5"/>
<circle cx="675.2" cy="264.3" r="1.6" fill="none" stroke="#9c9c9c" stroke-width="0.6" opacity="0.5"/>
<circle cx="669.2" cy="305.6" r="0.7" fill="none" stroke="#9c9c9c" stroke-width="0.6" opacity="0.5"/>
<circle cx="654.3" cy="258.1" r="1.3" fill="none" stroke="#9c9c9c" stroke-width="0.6" opacity="0.5"/>
<circle cx="642.1" cy="339.6" r="1.3" fill="none" stroke="#9c9c9c" stroke-width="0.6" opacity="0.5"/>
<circle cx="690.7" cy="272.1" r="1.3" fill="none" stroke="#9c9c9c" stroke-width="0.6" opacity="0.5"/>
<circle cx="682.0" cy="341.3" r="1.0" fill="none" stroke="#9c9c9c" stroke-width="0.6" opacity="0.5"/>
<circle cx="697.2" cy="347.3" r="1.3" fill="none" stroke="#9c9c9c" stroke-width="0.6" opacity="0.5"/>
<circle cx="716.5" cy="359.7" r="1.2" fill="none" stroke="#9c9c9c" stroke-width="0.6" opacity="0.5"/>
<circle cx="651.8" cy="245.9" r="1.5" fill="none" stroke="#9c9c9c" stroke-width="0.6" opacity="0.5"/>
<circle cx="710.9" cy="290.7" r="1.3" fill="none" stroke="#9c9c9c" stroke-width="0.6" opacity="0.5"/>
<circle cx="679.4" cy="327.2" r="0.9" fill="none" stroke="#9c9c9c" stroke-width="0.6" opacity="0.5"/>
<circle cx="688.2" cy="305.6" r="1.3" fill="none" stroke="#9c9c9c" stroke-width="0.6" opacity="0.5"/>
<circle cx="636.0" cy="311.8" r="1.4" fill="none" stroke="#9c9c9c" stroke-width="0.6" opacity="0.5"/>
<circle cx="667.3" cy="325.7" r="0.7" fill="none" stroke="#9c9c9c" stroke-width="0.6" opacity="0.5"/>
<circle cx="598.2" cy="285.5" r="1.3" fill="none" stroke="#9c9c9c" stroke-width="0.6" opacity="0.5"/>
<circle cx="606.8" cy="320.8" r="1.3" fill="none" stroke="#9c9c9c" stroke-width="0.6" opacity="0.5"/>
<circle cx="581.1" cy="289.9" r="0.9" fill="none" stroke="#9c9c9c" stroke-width="0.6" opacity="0.5"/>
<circle cx="582.9" cy="241.2" r="1.0" fill="none" stroke="#9c9c9c" stroke-width="0.6" opacity="0.5"/>
<circle cx="601.3" cy="249.8" r="0.7" fill="none" stroke="#9c9c9c" stroke-width="0.6" opacity="0.5"/>
<circle cx="642.5" cy="276.8" r="1.3" fill="none" stroke="#9c9c9c" stroke-width="0.6" opacity="0.5"/>
<circle cx="660.6" cy="256.2" r="1.5" fill="none" stroke="#9c9c9c" stroke-width="0.6" opacity="0.5"/>
<circle cx="575.1" cy="280.4" r="1.0" fill="none" stroke="#9c9c9c" stroke-width="0.6" opacity="0.5"/>
<circle cx="634.5" cy="238.6" r="1.4" fill="none" stroke="#9c9c9c" stroke-width="0.6" opacity="0.5"/>
<circle cx="629.2" cy="227.2" r="1.3" fill="none" stroke="#9c9c9c" stroke-width="0.6" opacity="0.5"/>
<circle cx="710.7" cy="287.9" r="1.0" fill="#1e1e1e" opacity="0.66"/>
<circle cx="600.5" cy="294.8" r="1.0" fill="#1e1e1e" opacity="0.73"/>
<circle cx="587.0" cy="263.9" r="0.7" fill="#1e1e1e" opacity="0.73"/>
<circle cx="676.3" cy="225.2" r="1.3" fill="#1e1e1e" opacity="0.79"/>
<circle cx="596.5" cy="221.2" r="1.0" fill="#1e1e1e" opacity="0.47"/>
<circle cx="601.3" cy="254.8" r="0.6" fill="#1e1e1e" opacity="0.61"/>
<circle cx="638.6" cy="343.7" r="1.0" fill="#1e1e1e" opacity="0.67"/>
<circle cx="641.1" cy="260.2" r="1.3" fill="#1e1e1e" opacity="0.80"/>
<circle cx="698.2" cy="323.8" r="0.8" fill="#1e1e1e" opacity="0.53"/>
<circle cx="616.1" cy="229.4" r="1.1" fill="#1e1e1e" opacity="0.59"/>
<circle cx="699.1" cy="276.2" r="1.3" fill="#1e1e1e" opacity="0.75"/>
<circle cx="573.1" cy="250.0" r="1.2" fill="#1e1e1e" opacity="0.61"/>
<circle cx="719.1" cy="277.8" r="0.7" fill="#1e1e1e" opacity="0.67"/>
<circle cx="689.0" cy="258.9" r="0.7" fill="#1e1e1e" opacity="0.57"/>
<circle cx="716.6" cy="331.2" r="0.7" fill="#1e1e1e" opacity="0.54"/>
<circle cx="588.1" cy="227.9" r="1.2" fill="#1e1e1e" opacity="0.51"/>
<circle cx="601.4" cy="327.3" r="0.7" fill="#1e1e1e" opacity="0.68"/>
<circle cx="590.4" cy="281.3" r="0.7" fill="#1e1e1e" opacity="0.54"/>
<circle cx="717.7" cy="337.9" r="0.8" fill="#1e1e1e" opacity="0.76"/>
<circle cx="604.4" cy="277.4" r="1.2" fill="#1e1e1e" opacity="0.67"/>
<circle cx="587.9" cy="365.4" r="0.7" fill="#1e1e1e" opacity="0.54"/>
<circle cx="688.1" cy="267.7" r="0.8" fill="#1e1e1e" opacity="0.48"/>
<circle cx="586.4" cy="305.2" r="0.8" fill="#1e1e1e" opacity="0.66"/>
<circle cx="628.4" cy="286.1" r="1.3" fill="#1e1e1e" opacity="0.62"/>
<circle cx="658.6" cy="347.2" r="0.7" fill="#1e1e1e" opacity="0.50"/>
<circle cx="708.4" cy="340.0" r="0.8" fill="#1e1e1e" opacity="0.52"/>
<circle cx="683.2" cy="358.2" r="0.7" fill="#1e1e1e" opacity="0.78"/>
<circle cx="704.4" cy="308.3" r="0.9" fill="#1e1e1e" opacity="0.49"/>
<circle cx="578.8" cy="361.5" r="0.8" fill="#1e1e1e" opacity="0.70"/>
<circle cx="611.3" cy="340.9" r="1.0" fill="#1e1e1e" opacity="0.55"/>
<circle cx="599.1" cy="325.6" r="0.6" fill="#1e1e1e" opacity="0.53"/>
<circle cx="656.3" cy="345.2" r="1.0" fill="#1e1e1e" opacity="0.55"/>
<circle cx="709.7" cy="249.2" r="0.6" fill="#1e1e1e" opacity="0.54"/>
<circle cx="639.4" cy="227.9" r="0.7" fill="#1e1e1e" opacity="0.58"/>
<circle cx="658.3" cy="238.5" r="0.9" fill="#1e1e1e" opacity="0.76"/>
<circle cx="719.1" cy="316.2" r="1.1" fill="#1e1e1e" opacity="0.65"/>
<circle cx="593.9" cy="224.2" r="0.6" fill="#1e1e1e" opacity="0.77"/>
<circle cx="677.4" cy="361.5" r="0.6" fill="#1e1e1e" opacity="0.67"/>
<circle cx="620.5" cy="366.9" r="0.7" fill="#1e1e1e" opacity="0.64"/>
<circle cx="682.8" cy="352.2" r="1.1" fill="#1e1e1e" opacity="0.70"/>
<circle cx="691.2" cy="354.4" r="0.8" fill="#1e1e1e" opacity="0.69"/>
<circle cx="707.2" cy="347.9" r="0.9" fill="#1e1e1e" opacity="0.73"/>
<circle cx="701.7" cy="303.8" r="1.0" fill="#1e1e1e" opacity="0.58"/>
<circle cx="585.0" cy="313.6" r="1.3" fill="#1e1e1e" opacity="0.76"/>
<circle cx="638.6" cy="343.1" r="0.7" fill="#1e1e1e" opacity="0.71"/>
<circle cx="577.4" cy="308.0" r="0.9" fill="#1e1e1e" opacity="0.53"/>
<circle cx="664.6" cy="355.2" r="0.8" fill="#1e1e1e" opacity="0.45"/>
<circle cx="603.2" cy="244.1" r="1.2" fill="#1e1e1e" opacity="0.68"/>
<circle cx="638.8" cy="351.0" r="0.8" fill="#1e1e1e" opacity="0.68"/>
<circle cx="602.6" cy="282.8" r="1.2" fill="#1e1e1e" opacity="0.77"/>
<circle cx="704.2" cy="275.9" r="1.0" fill="#1e1e1e" opacity="0.56"/>
<circle cx="593.3" cy="292.5" r="1.2" fill="#1e1e1e" opacity="0.75"/>
<circle cx="679.0" cy="359.6" r="0.8" fill="#1e1e1e" opacity="0.51"/>
<circle cx="640.1" cy="259.7" r="0.7" fill="#1e1e1e" opacity="0.59"/>
<circle cx="620.0" cy="343.2" r="1.3" fill="#1e1e1e" opacity="0.61"/>
<circle cx="584.1" cy="223.7" r="1.2" fill="#1e1e1e" opacity="0.46"/>
<circle cx="575.8" cy="239.1" r="0.9" fill="#1e1e1e" opacity="0.46"/>
<circle cx="696.6" cy="254.1" r="0.7" fill="#1e1e1e" opacity="0.47"/>
<circle cx="693.3" cy="360.9" r="1.1" fill="#1e1e1e" opacity="0.52"/>
<circle cx="643.8" cy="245.4" r="0.6" fill="#1e1e1e" opacity="0.62"/>
<circle cx="679.4" cy="245.5" r="0.8" fill="#1e1e1e" opacity="0.57"/>
<circle cx="664.6" cy="330.9" r="0.9" fill="#1e1e1e" opacity="0.73"/>
<circle cx="708.0" cy="231.9" r="1.3" fill="#1e1e1e" opacity="0.70"/>
<circle cx="592.4" cy="286.1" r="1.0" fill="#1e1e1e" opacity="0.77"/>
<circle cx="704.0" cy="336.9" r="1.3" fill="#1e1e1e" opacity="0.61"/>
<circle cx="670.0" cy="249.3" r="1.1" fill="#1e1e1e" opacity="0.74"/>
<circle cx="668.6" cy="325.2" r="0.7" fill="#1e1e1e" opacity="0.76"/>
<circle cx="719.1" cy="363.6" r="1.0" fill="#1e1e1e" opacity="0.73"/>
<circle cx="620.7" cy="353.7" r="1.2" fill="#1e1e1e" opacity="0.57"/>
<circle cx="585.3" cy="284.3" r="1.0" fill="#1e1e1e" opacity="0.72"/>
<circle cx="645.6" cy="223.2" r="1.2" fill="#1e1e1e" opacity="0.47"/>
<circle cx="692.2" cy="244.6" r="0.8" fill="#1e1e1e" opacity="0.73"/>
<circle cx="593.9" cy="241.0" r="1.0" fill="#1e1e1e" opacity="0.70"/>
<circle cx="698.2" cy="321.0" r="1.3" fill="#1e1e1e" opacity="0.62"/>
<circle cx="714.4" cy="231.7" r="0.8" fill="#1e1e1e" opacity="0.63"/>
<circle cx="698.7" cy="301.9" r="0.8" fill="#1e1e1e" opacity="0.58"/>
<circle cx="698.9" cy="352.3" r="0.7" fill="#1e1e1e" opacity="0.75"/>
<circle cx="717.3" cy="296.6" r="1.0" fill="#1e1e1e" opacity="0.52"/>
<circle cx="663.2" cy="223.1" r="1.3" fill="#1e1e1e" opacity="0.63"/>
<circle cx="676.0" cy="228.8" r="1.0" fill="#1e1e1e" opacity="0.59"/>
<circle cx="715.6" cy="355.7" r="0.8" fill="#1e1e1e" opacity="0.62"/>
<circle cx="591.9" cy="283.2" r="1.2" fill="#1e1e1e" opacity="0.77"/>
<circle cx="644.0" cy="265.9" r="0.7" fill="#1e1e1e" opacity="0.67"/>
<circle cx="710.9" cy="238.2" r="1.1" fill="#1e1e1e" opacity="0.46"/>
<circle cx="601.9" cy="252.6" r="1.1" fill="#1e1e1e" opacity="0.56"/>
<circle cx="588.6" cy="327.2" r="0.7" fill="#1e1e1e" opacity="0.63"/>
<circle cx="610.3" cy="248.3" r="1.0" fill="#1e1e1e" opacity="0.60"/>
<circle cx="643.7" cy="132.0" r="0.8" fill="#222" opacity="0.39"/>
<circle cx="574.6" cy="89.8" r="0.6" fill="#222" opacity="0.55"/>
<circle cx="675.9" cy="123.6" r="0.8" fill="#222" opacity="0.52"/>
<circle cx="594.7" cy="99.6" r="0.6" fill="#222" opacity="0.58"/>
<circle cx="581.8" cy="156.0" r="0.5" fill="#222" opacity="0.52"/>
<circle cx="623.2" cy="94.3" r="0.9" fill="#222" opacity="0.35"/>
<circle cx="582.1" cy="170.3" r="0.8" fill="#222" opacity="0.37"/>
<circle cx="720.1" cy="175.1" r="0.6" fill="#222" opacity="0.46"/>
<circle cx="593.1" cy="80.6" r="0.8" fill="#222" opacity="0.39"/>
<circle cx="676.8" cy="41.7" r="0.6" fill="#222" opacity="0.55"/>
<circle cx="632.7" cy="96.4" r="0.8" fill="#222" opacity="0.47"/>
<circle cx="630.3" cy="38.5" r="0.9" fill="#222" opacity="0.59"/>
<circle cx="718.5" cy="132.9" r="0.7" fill="#222" opacity="0.44"/>
<circle cx="675.8" cy="134.4" r="0.6" fill="#222" opacity="0.41"/>
<circle cx="627.1" cy="110.2" r="0.9" fill="#222" opacity="0.48"/>
<circle cx="577.2" cy="156.6" r="0.7" fill="#222" opacity="0.48"/>
<circle cx="606.1" cy="97.7" r="0.7" fill="#222" opacity="0.54"/>
<circle cx="588.3" cy="115.9" r="0.6" fill="#222" opacity="0.52"/>
<circle cx="578.5" cy="75.2" r="0.7" fill="#222" opacity="0.51"/>
<circle cx="580.8" cy="102.4" r="0.6" fill="#222" opacity="0.42"/>
<circle cx="644.0" cy="176.9" r="0.7" fill="#222" opacity="0.59"/>
<circle cx="598.0" cy="171.7" r="0.7" fill="#222" opacity="0.40"/>
<circle cx="684.5" cy="169.9" r="0.5" fill="#222" opacity="0.42"/>
<circle cx="687.8" cy="84.9" r="0.6" fill="#222" opacity="0.35"/>
<circle cx="579.0" cy="126.2" r="1.0" fill="#222" opacity="0.60"/>
<circle cx="648.0" cy="37.6" r="0.7" fill="#222" opacity="0.55"/>
<circle cx="697.0" cy="129.3" r="0.6" fill="#222" opacity="0.48"/>
<circle cx="644.1" cy="127.4" r="0.6" fill="#222" opacity="0.59"/>
<circle cx="706.3" cy="58.2" r="0.6" fill="#222" opacity="0.57"/>
<circle cx="614.5" cy="174.6" r="0.8" fill="#222" opacity="0.52"/>
<circle cx="678.0" cy="65.9" r="0.6" fill="#222" opacity="0.41"/>
<circle cx="674.8" cy="137.4" r="0.6" fill="#222" opacity="0.57"/>
<circle cx="635.6" cy="69.9" r="0.7" fill="#222" opacity="0.59"/>
<circle cx="656.4" cy="127.1" r="1.0" fill="#222" opacity="0.59"/>
<circle cx="686.3" cy="96.2" r="0.8" fill="#222" opacity="0.58"/>
<circle cx="690.6" cy="120.4" r="0.7" fill="#222" opacity="0.44"/>
<circle cx="682.6" cy="117.9" r="0.5" fill="#222" opacity="0.53"/>
<circle cx="707.7" cy="152.9" r="0.9" fill="#222" opacity="0.58"/>
<circle cx="652.7" cy="151.6" r="0.7" fill="#222" opacity="0.37"/>
<circle cx="625.6" cy="80.5" r="1.0" fill="#222" opacity="0.52"/>
<circle cx="667.6" cy="290.4" r="24.4" fill="#363636"/>
<path d="M651,283 C652,274 660,270 668,270.5 C677,271 684,276 685.5,284 C687,293 684,301 676,305 C668,309 657,306 653,299 C650.5,294 650.5,288 651,283 Z" fill="#2a2a2a" stroke="#6a6a6a" stroke-width="0.8"/>
<path d="M646.47,302.60 L644.67,298.75 L643.57,294.64 L643.20,290.40 L643.57,286.16 L644.67,282.05 L646.47,278.20 L648.91,274.72 L651.92,271.71 L655.40,269.27 L659.25,267.47 L663.36,266.37 L667.60,266.00 L671.84,266.37 L675.95,267.47 L679.80,269.27 L683.28,271.71 L686.29,274.72 L688.73,278.20 L690.53,282.05 L691.63,286.16 L692.00,290.40 L691.63,294.64 L690.53,298.75 L688.73,302.60" fill="none" stroke="#bdbdbd" stroke-width="1.0"/>
<path d="M690.15,282.19 L690.99,285.04 L691.48,287.96 L691.59,290.92 L691.35,293.88 L690.74,296.78 L689.77,299.58 L688.47,302.25 L686.85,304.73 L684.94,307.00 L682.76,309.01 L680.35,310.73 L677.74,312.15 L674.98,313.24 L672.11,313.97 L669.17,314.35 L666.20,314.36 L663.26,314.00 L660.38,313.29 L657.62,312.22 L655.00,310.83 L652.58,309.12 L650.38,307.12 L648.45,304.87 L646.82,302.40" fill="none" stroke="#eeeeee" stroke-width="2.0"/>
<path d="M621.50,295.60 C622.75,295.92 627.00,296.63 629.00,297.50 C631.00,298.37 632.30,300.02 633.50,300.80 C634.70,301.58 635.03,301.92 636.20,302.20 C637.37,302.48 639.10,302.03 640.50,302.50 C641.90,302.97 643.43,303.58 644.60,305.00 C645.77,306.42 646.80,308.70 647.50,311.00 C648.20,313.30 648.88,316.22 648.80,318.80 C648.72,321.38 648.13,324.38 647.00,326.50 C645.87,328.62 644.08,330.18 642.00,331.50 C639.92,332.82 636.87,333.88 634.50,334.40 C632.13,334.92 630.38,334.80 627.80,334.60 C625.22,334.40 621.72,333.97 619.00,333.20 C616.28,332.43 613.58,331.45 611.50,330.00 C609.42,328.55 607.82,326.75 606.50,324.50 C605.18,322.25 603.97,319.17 603.60,316.50 C603.23,313.83 603.65,311.00 604.30,308.50 C604.95,306.00 605.97,303.42 607.50,301.50 C609.03,299.58 611.17,297.98 613.50,297.00 C615.83,296.02 618.92,295.52 621.50,295.60 C624.08,295.68 627.75,297.18 629.00,297.50 Z" fill="#2f2f2f" stroke="#cfcfcf" stroke-width="1.2"/>
<path d="M607,304 C603,312 604,324 611.5,330.5 C617,334 624,335 630,334.8" fill="none" stroke="#ececec" stroke-width="1.8"/>
<path d="M611,313 C617,306 626,303 633,304 M620,318 C626,312 633,309 640,312 M615,325 C622,321 630,322 636,326" fill="none" stroke="#5a5a5a" stroke-width="0.7"/>
<circle cx="659.0" cy="282.0" r="1.2" fill="#8a8a8a"/>
<circle cx="662.0" cy="287.0" r="1.0" fill="#8a8a8a"/>
<circle cx="676.0" cy="284.0" r="1.0" fill="#8a8a8a"/>
<circle cx="672.0" cy="290.0" r="0.9" fill="#8a8a8a"/>
<circle cx="617.0" cy="311.0" r="0.8" fill="#8a8a8a"/>
<circle cx="610.0" cy="321.0" r="0.6" fill="#8a8a8a"/>
<circle cx="664.0" cy="296.0" r="0.8" fill="#8a8a8a"/>
<circle cx="679.0" cy="296.0" r="0.8" fill="#8a8a8a"/>
<rect x="671.2" y="287" width="1.6" height="4.5" fill="#e6e6e6"/>
<ellipse cx="576.0" cy="312.0" rx="3.0" ry="4.0" fill="none" stroke="#a0a0a0" stroke-width="0.8" opacity="0.7"/>
<ellipse cx="582.0" cy="330.0" rx="2.5" ry="2.0" fill="none" stroke="#a0a0a0" stroke-width="0.8" opacity="0.7"/>
<ellipse cx="590.0" cy="345.0" rx="3.0" ry="2.0" fill="none" stroke="#a0a0a0" stroke-width="0.8" opacity="0.7"/>
<ellipse cx="611.0" cy="343.0" rx="3.5" ry="2.5" fill="none" stroke="#a0a0a0" stroke-width="0.8" opacity="0.7"/>
<ellipse cx="600.0" cy="358.0" rx="2.0" ry="2.0" fill="none" stroke="#a0a0a0" stroke-width="0.8" opacity="0.7"/>
<ellipse cx="645.0" cy="352.0" rx="2.5" ry="3.0" fill="none" stroke="#a0a0a0" stroke-width="0.8" opacity="0.7"/>
<ellipse cx="652.0" cy="340.0" rx="2.0" ry="2.0" fill="none" stroke="#a0a0a0" stroke-width="0.8" opacity="0.7"/>
<ellipse cx="612.0" cy="356.0" rx="2.0" ry="1.5" fill="none" stroke="#a0a0a0" stroke-width="0.8" opacity="0.7"/>
<ellipse cx="668.0" cy="349.0" rx="3.0" ry="2.0" fill="none" stroke="#a0a0a0" stroke-width="0.8" opacity="0.7"/>
<path d="M596.0,169.3 V187.5" stroke="#e8141c" stroke-width="1.1"/>
<circle cx="596.0" cy="169.3" r="1.1" fill="#e8141c"/>
<path d="M646.5,111.6 V187.5" stroke="#e8141c" stroke-width="1.1"/>
<circle cx="646.5" cy="111.6" r="1.1" fill="#e8141c"/>
<path d="M594.8,354.2 V372.2" stroke="#e8141c" stroke-width="1.1"/>
<circle cx="594.8" cy="354.2" r="1.1" fill="#e8141c"/>
<path d="M632.8,325.5 V372.2" stroke="#e8141c" stroke-width="1.1"/>
<circle cx="632.8" cy="325.5" r="1.1" fill="#e8141c"/>
<text x="573.20" y="196.50" font-size="11.40" fill="#e8141c" >Au/LLZO</text>
<text x="642.40" y="196.50" font-size="11.40" fill="#e8141c" >Li</text>
<text x="572.50" y="380.90" font-size="11.40" fill="#e8141c" >Au/LLZO</text>
<text x="629.40" y="380.90" font-size="11.40" fill="#e8141c" >Li</text>
<text x="695.20" y="176.80" font-size="9.80" fill="#fff"  textLength="24.20" lengthAdjust="spacingAndGlyphs">10 &#956;m</text>
<rect x="695.8" y="178.7" width="22.3" height="2.0" fill="#e8141c"/>
<text x="695.20" y="361.60" font-size="9.80" fill="#fff"  textLength="24.40" lengthAdjust="spacingAndGlyphs">10 &#956;m</text>
<rect x="695.8" y="363.7" width="22.4" height="2.0" fill="#e8141c"/>
<path d="M617.4,18.2 L629,18.2 L623.2,29.1 Z" fill="#6fad2f"/>
<path d="M617.4,202.8 L628.8,202.8 L623.1,213.7 Z" fill="#6fad2f"/>
<text x="632.30" y="28.50" font-size="10.40" font-weight="bold" fill="#000"  textLength="31.00" lengthAdjust="spacingAndGlyphs">Center</text>
<text x="635.70" y="213.40" font-size="10.40" font-weight="bold" fill="#000"  textLength="23.80" lengthAdjust="spacingAndGlyphs">Edge</text>
</svg>
</body></html>
